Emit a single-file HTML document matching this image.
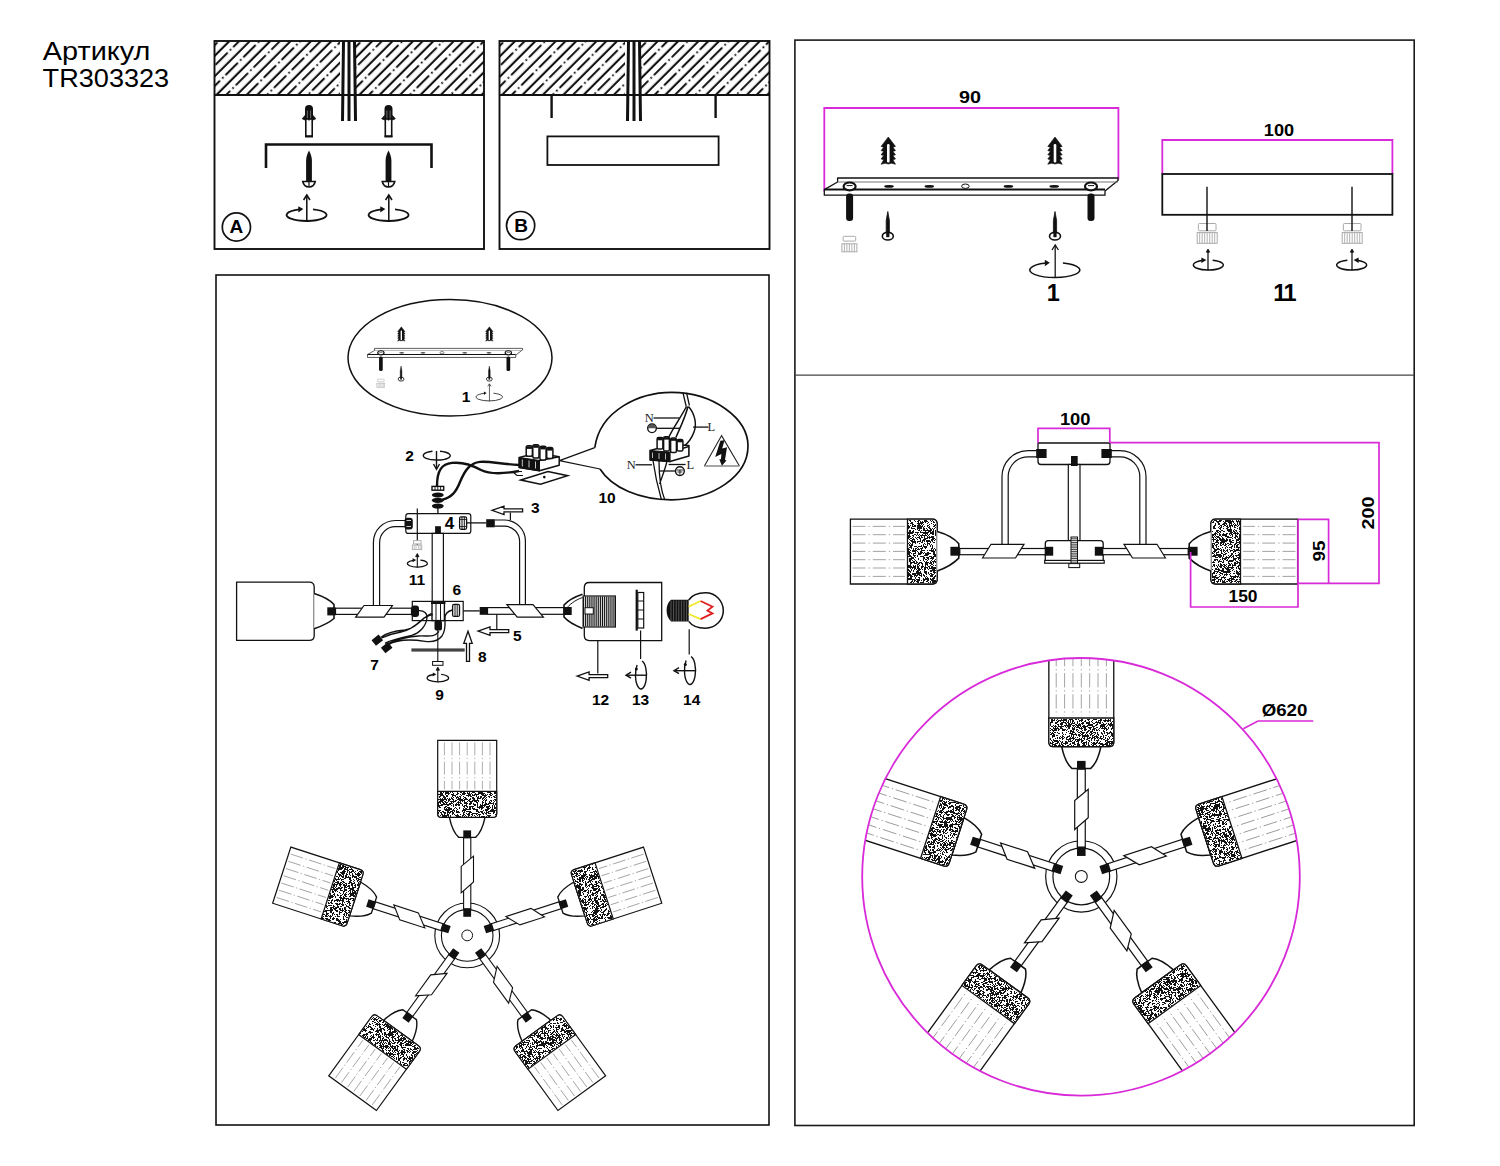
<!DOCTYPE html>
<html><head><meta charset="utf-8"><title>TR303323</title>
<style>
html,body{margin:0;padding:0;background:#fff;width:1500px;height:1166px;overflow:hidden}
svg{display:block}
text{font-family:"Liberation Sans",sans-serif}
.b{font-weight:bold}
text.sf{font-family:"Liberation Serif",serif}
</style></head><body>
<svg width="1500" height="1166" viewBox="0 0 1500 1166">
<defs>
<pattern id="hatch" width="14.425" height="25.24" patternUnits="userSpaceOnUse" patternTransform="rotate(45)">
<rect width="14.425" height="25.24" fill="#fff"/>
<line x1="3.75" y1="-1" x2="3.75" y2="26.24" stroke="#111" stroke-width="2.1"/>
<line x1="10.68" y1="0" x2="10.68" y2="25.24" stroke="#111" stroke-width="2" stroke-dasharray="17.4 3.1 1.6 3.14" stroke-dashoffset="-2.38"/>
</pattern>
</defs>
<text x="42.8" y="60" font-size="25" textLength="107.5" lengthAdjust="spacingAndGlyphs">Артикул</text>
<text x="42.6" y="86.5" font-size="25" textLength="126.6" lengthAdjust="spacingAndGlyphs">TR303323</text>
<rect x="214.5" y="41" width="269.5" height="54" fill="url(#hatch)"/><rect x="340" y="41" width="16" height="54" fill="#fff"/><rect x="214.5" y="41" width="269.5" height="208" fill="none" stroke="#111" stroke-width="1.9"/><line x1="214.5" y1="95" x2="484" y2="95" stroke="#111" stroke-width="2"/><path d="M343.5,41 L342.5,121 M349,41 L349,121 M354.5,41 L355.5,121" stroke="#111" stroke-width="3"/>
<path d="M305.0,119.0 V109 A4.0,4.0 0 0 1 313.0,109 V119.0z" fill="#111"/><path d="M307.4,110.5 V118.5 M310.6,110.5 V118.5" stroke="#777" stroke-width="0.9"/><path d="M305.0,115.5 L302.2,118.8 L305.0,120.0z M313.0,115.5 L315.8,118.8 L313.0,120.0z" fill="#111" stroke="#111" stroke-width="0.8" stroke-linejoin="round"/><rect x="305.8" y="119.0" width="6.4" height="17.2" fill="#fff" stroke="#111" stroke-width="1.6"/><line x1="309" y1="117.5" x2="309" y2="120.5" stroke="#111" stroke-width="1.4"/><line x1="305.0" y1="136.5" x2="313.0" y2="136.5" stroke="#111" stroke-width="2"/>
<path d="M384.5,119.0 V109 A4.0,4.0 0 0 1 392.5,109 V119.0z" fill="#111"/><path d="M386.9,110.5 V118.5 M390.1,110.5 V118.5" stroke="#777" stroke-width="0.9"/><path d="M384.5,115.5 L381.7,118.8 L384.5,120.0z M392.5,115.5 L395.3,118.8 L392.5,120.0z" fill="#111" stroke="#111" stroke-width="0.8" stroke-linejoin="round"/><rect x="385.3" y="119.0" width="6.4" height="17.2" fill="#fff" stroke="#111" stroke-width="1.6"/><line x1="388.5" y1="117.5" x2="388.5" y2="120.5" stroke="#111" stroke-width="1.4"/><line x1="384.5" y1="136.5" x2="392.5" y2="136.5" stroke="#111" stroke-width="2"/>
<path d="M266,168 V144.5 H431.5 V168" fill="none" stroke="#111" stroke-width="2.6"/>
<path d="M309,150.5 C310.5,153.5 311.9,156.5 311.9,160.5 V181.5 H306.1 V160.5 C306.1,156.5 307.5,153.5 309,150.5z" fill="#111"/><path d="M302.75,181.5 H315.25 C314.25,186 311,187 309,187 C307,187 303.75,186 302.75,181.5z" fill="#fff" stroke="#111" stroke-width="1.6"/><line x1="309" y1="181.5" x2="309" y2="187" stroke="#111" stroke-width="1.2"/>
<path d="M388.5,150.5 C390.0,153.5 391.4,156.5 391.4,160.5 V181.5 H385.6 V160.5 C385.6,156.5 387.0,153.5 388.5,150.5z" fill="#111"/><path d="M382.25,181.5 H394.75 C393.75,186 390.5,187 388.5,187 C386.5,187 383.25,186 382.25,181.5z" fill="#fff" stroke="#111" stroke-width="1.6"/><line x1="388.5" y1="181.5" x2="388.5" y2="187" stroke="#111" stroke-width="1.2"/>
<circle cx="236.4" cy="227" r="14.1" fill="none" stroke="#111" stroke-width="1.7"/>
<text x="236.4" y="232.8" font-size="19" class="b" text-anchor="middle">A</text>
<rect x="499.5" y="41" width="270.0" height="54" fill="url(#hatch)"/><rect x="625" y="41" width="16" height="54" fill="#fff"/><rect x="499.5" y="41" width="270.0" height="208" fill="none" stroke="#111" stroke-width="1.9"/><line x1="499.5" y1="95" x2="769.5" y2="95" stroke="#111" stroke-width="2"/><path d="M628.5,41 L627.5,121 M634,41 L634,121 M639.5,41 L640.5,121" stroke="#111" stroke-width="3"/>
<path d="M551.6,95 V118 M715.6,95 V118" stroke="#111" stroke-width="2.4"/>
<rect x="547.4" y="136.4" width="171.2" height="28.6" fill="none" stroke="#111" stroke-width="1.8"/>
<circle cx="520.6" cy="225.6" r="14.1" fill="none" stroke="#111" stroke-width="1.7"/>
<text x="521.2" y="231.8" font-size="19" class="b" text-anchor="middle">B</text>
<rect x="794.9" y="40.1" width="619.3" height="1085.4" fill="none" stroke="#1a1a1a" stroke-width="1.6"/>
<line x1="795" y1="375.2" x2="1414" y2="375.2" stroke="#444" stroke-width="1.3"/>
<path d="M313.0,209.3 A20,6 0 1 1 299.3,209.4" fill="none" stroke="#111" stroke-width="1.8"/><path d="M298.3,206.2 L303.3,209.1 L298.3,212.6z" fill="#111"/><line x1="306.8" y1="221.5" x2="306.8" y2="196" stroke="#111" stroke-width="1.53"/><path d="M303.6,200 L306.8,195 L310.0,200" fill="none" stroke="#111" stroke-width="1.53"/>
<path d="M395.0,209.3 A20,6 0 1 1 381.3,209.4" fill="none" stroke="#111" stroke-width="1.8"/><path d="M380.3,206.2 L385.3,209.1 L380.3,212.6z" fill="#111"/><line x1="388.8" y1="221.5" x2="388.8" y2="196" stroke="#111" stroke-width="1.53"/><path d="M385.6,200 L388.8,195 L392.0,200" fill="none" stroke="#111" stroke-width="1.53"/>
<path d="M824.3,191.5 V108 H1118.4 V179.5" fill="none" stroke="#d82ad8" stroke-width="1.8"/>
<text x="970" y="102.6" font-size="16.5" class="b" text-anchor="middle" textLength="22" lengthAdjust="spacingAndGlyphs">90</text>
<g id="plategrp">
<path d="M888.3,137.0 L895.5,146.4 L892.9,147.2 L895.5,150.6 L892.9,151.4 L895.5,154.8 L892.9,155.6 L895.5,159.0 L892.9,159.8 L895.5,164.3 L891.5,163.2 L888.3,164.0 L885.1,163.2 L881.1,164.3 L883.7,159.8 L881.1,159.0 L883.7,155.6 L881.1,154.8 L883.7,151.4 L881.1,150.6 L883.7,147.2 L881.1,146.4z" fill="#111" stroke="#111" stroke-width="0.6" stroke-linejoin="round"/><rect x="887.0" y="144.0" width="2.6" height="18.5" rx="1.2" fill="#fff"/>
<path d="M1055.0,137.0 L1062.2,146.4 L1059.6,147.2 L1062.2,150.6 L1059.6,151.4 L1062.2,154.8 L1059.6,155.6 L1062.2,159.0 L1059.6,159.8 L1062.2,164.3 L1058.2,163.2 L1055.0,164.0 L1051.8,163.2 L1047.8,164.3 L1050.4,159.8 L1047.8,159.0 L1050.4,155.6 L1047.8,154.8 L1050.4,151.4 L1047.8,150.6 L1050.4,147.2 L1047.8,146.4z" fill="#111" stroke="#111" stroke-width="0.6" stroke-linejoin="round"/><rect x="1053.7" y="144.0" width="2.6" height="18.5" rx="1.2" fill="#fff"/>
<path d="M824.3,195.2 V189.6 L837.6,182 V178 H1118 V180.5 L1105,191 V195.2 Z" fill="#fff" stroke="#111" stroke-width="1.3" stroke-linejoin="round"/>
<path d="M824.3,189.6 H1105" stroke="#111" stroke-width="2"/>
<path d="M837.6,182 H1118" stroke="#777" stroke-width="1"/>
<ellipse cx="889" cy="186.4" rx="4.8" ry="1.3" fill="#111"/>
<ellipse cx="929.3" cy="186.4" rx="4.8" ry="1.3" fill="#111"/>
<ellipse cx="1008.4" cy="186.4" rx="4.8" ry="1.3" fill="#111"/>
<ellipse cx="1054.2" cy="186.4" rx="4.8" ry="1.3" fill="#111"/>
<ellipse cx="965.4" cy="186.2" rx="3.8" ry="2.2" fill="#fff" stroke="#111" stroke-width="1"/>
<rect x="846.1" y="193.5" width="7" height="27.5" rx="3" fill="#111"/>
<ellipse cx="849.6" cy="186.4" rx="6" ry="3.9" fill="#fff" stroke="#111" stroke-width="2.2"/>
<path d="M846.6,185.6 H852.6" stroke="#111" stroke-width="1"/>
<rect x="1087.5" y="193.5" width="7" height="27.5" rx="3" fill="#111"/>
<ellipse cx="1091" cy="186.4" rx="6" ry="3.9" fill="#fff" stroke="#111" stroke-width="2.2"/>
<path d="M1088,185.6 H1094" stroke="#111" stroke-width="1"/>
<path d="M887.8,211.5 L889.4,220.5 V236.2 H886.1999999999999 V220.5z" fill="#111" stroke="#111" stroke-width="0.8"/><ellipse cx="887.8" cy="236.2" rx="5.5" ry="3.8" fill="#fff" stroke="#111" stroke-width="1.6"/><rect x="886.1999999999999" y="232.2" width="3.2" height="5" fill="#111"/>
<path d="M1055,211.5 L1056.6,220.5 V236.2 H1053.4 V220.5z" fill="#111" stroke="#111" stroke-width="0.8"/><ellipse cx="1055" cy="236.2" rx="5.5" ry="3.8" fill="#fff" stroke="#111" stroke-width="1.6"/><rect x="1053.4" y="232.2" width="3.2" height="5" fill="#111"/>
<rect x="843.1" y="236.3" width="12.6" height="4.8" rx="1" fill="#fff" stroke="#aaa" stroke-width="1"/><rect x="841.9" y="243.8" width="15" height="8" fill="#fff" stroke="#aaa" stroke-width="1"/><line x1="844.4" y1="243.8" x2="844.4" y2="251.8" stroke="#aaa" stroke-width="0.9"/><line x1="846.9" y1="243.8" x2="846.9" y2="251.8" stroke="#aaa" stroke-width="0.9"/><line x1="849.4" y1="243.8" x2="849.4" y2="251.8" stroke="#aaa" stroke-width="0.9"/><line x1="851.9" y1="243.8" x2="851.9" y2="251.8" stroke="#aaa" stroke-width="0.9"/><line x1="854.4" y1="243.8" x2="854.4" y2="251.8" stroke="#aaa" stroke-width="0.9"/>
<path d="M1062.9,262.9 A25,7.5 0 1 1 1045.8,263.0" fill="none" stroke="#111" stroke-width="1.5"/><path d="M1044.8,259.8 L1049.8,262.7 L1044.8,266.2z" fill="#111"/><line x1="1055.2" y1="278.0" x2="1055.2" y2="246" stroke="#111" stroke-width="1.27"/><path d="M1052.0,250 L1055.2,245 L1058.4,250" fill="none" stroke="#111" stroke-width="1.27"/>
</g>
<text x="1053.3" y="300.6" font-size="23.5" class="b" text-anchor="middle">1</text>
<path d="M1162.3,174 V140 H1392.4 V174" fill="none" stroke="#d82ad8" stroke-width="1.8"/>
<text x="1279" y="135.7" font-size="16.5" class="b" text-anchor="middle" textLength="30.3" lengthAdjust="spacingAndGlyphs">100</text>
<rect x="1162.3" y="174" width="230.1" height="40.8" fill="none" stroke="#111" stroke-width="1.8"/>
<rect x="1198.4" y="223.5" width="17.6" height="7.3" rx="1" fill="#fff" stroke="#aaa" stroke-width="1"/><rect x="1197.2" y="232.60000000000002" width="20" height="10.7" fill="#fff" stroke="#aaa" stroke-width="1"/><line x1="1199.7" y1="232.60000000000002" x2="1199.7" y2="243.3" stroke="#aaa" stroke-width="0.9"/><line x1="1202.2" y1="232.60000000000002" x2="1202.2" y2="243.3" stroke="#aaa" stroke-width="0.9"/><line x1="1204.7" y1="232.60000000000002" x2="1204.7" y2="243.3" stroke="#aaa" stroke-width="0.9"/><line x1="1207.2" y1="232.60000000000002" x2="1207.2" y2="243.3" stroke="#aaa" stroke-width="0.9"/><line x1="1209.7" y1="232.60000000000002" x2="1209.7" y2="243.3" stroke="#aaa" stroke-width="0.9"/><line x1="1212.2" y1="232.60000000000002" x2="1212.2" y2="243.3" stroke="#aaa" stroke-width="0.9"/><line x1="1214.7" y1="232.60000000000002" x2="1214.7" y2="243.3" stroke="#aaa" stroke-width="0.9"/>
<rect x="1343.4" y="223.5" width="17.6" height="7.3" rx="1" fill="#fff" stroke="#aaa" stroke-width="1"/><rect x="1342.2" y="232.60000000000002" width="20" height="10.7" fill="#fff" stroke="#aaa" stroke-width="1"/><line x1="1344.7" y1="232.60000000000002" x2="1344.7" y2="243.3" stroke="#aaa" stroke-width="0.9"/><line x1="1347.2" y1="232.60000000000002" x2="1347.2" y2="243.3" stroke="#aaa" stroke-width="0.9"/><line x1="1349.7" y1="232.60000000000002" x2="1349.7" y2="243.3" stroke="#aaa" stroke-width="0.9"/><line x1="1352.2" y1="232.60000000000002" x2="1352.2" y2="243.3" stroke="#aaa" stroke-width="0.9"/><line x1="1354.7" y1="232.60000000000002" x2="1354.7" y2="243.3" stroke="#aaa" stroke-width="0.9"/><line x1="1357.2" y1="232.60000000000002" x2="1357.2" y2="243.3" stroke="#aaa" stroke-width="0.9"/><line x1="1359.7" y1="232.60000000000002" x2="1359.7" y2="243.3" stroke="#aaa" stroke-width="0.9"/>
<path d="M1207,186.7 V231 M1352,186.7 V231" stroke="#111" stroke-width="1.4"/>
<path d="M1212.6,260.2 A15,5 0 1 1 1202.4,260.4" fill="none" stroke="#111" stroke-width="1.5"/><path d="M1201.4,257.6 L1206.4,260.1 L1201.4,263.1z" fill="#111"/><line x1="1208" y1="270.5" x2="1208" y2="250" stroke="#111" stroke-width="1.27"/><path d="M1206.3,252.2 L1208,249 L1209.7,252.2z" fill="#111" stroke="#111" stroke-width="0.8"/>
<path d="M1347.4,260.2 A15,5 0 1 0 1357.6,260.4" fill="none" stroke="#111" stroke-width="1.5"/><path d="M1358.6,257.6 L1353.6,260.1 L1358.6,263.1z" fill="#111"/><line x1="1352" y1="270.5" x2="1352" y2="250" stroke="#111" stroke-width="1.27"/><path d="M1350.3,252.2 L1352,249 L1353.7,252.2z" fill="#111" stroke="#111" stroke-width="0.8"/>
<text x="1284.2" y="300.6" font-size="23.5" class="b" text-anchor="middle" letter-spacing="-1.6">11</text>
<defs><g id="arm"><rect x="-3.6" y="-98" width="7.2" height="72" fill="#fff" stroke="#111" stroke-width="1.1"/><path d="M-6,-42.6 L6.3,-53.4 L6.3,-79.2 L-6,-69 Z" fill="#fff" stroke="#111" stroke-width="1.1"/><path d="M-17.8,-118 Q-14.8,-103.5 -8.4,-98 H8.4 Q14.8,-103.5 17.8,-118 Z" fill="#fff" stroke="#111" stroke-width="1.4"/><rect x="-3.9" y="-105" width="7.8" height="8" fill="#111"/><rect x="-3.9" y="-27.2" width="7.8" height="8.6" fill="#111"/><path d="M-29.5,-195 H29.5 V-122 Q29.5,-118 25.5,-118 H-25.5 Q-29.5,-118 -29.5,-122 Z" fill="#fff" stroke="#111" stroke-width="1.2"/><path d="M-29.5,-144 H29.5 V-122 Q29.5,-118 25.5,-118 H-25.5 Q-29.5,-118 -29.5,-122 Z" fill="#fff" stroke="#111" stroke-width="1.2"/><path d="M-22.8,-193 V-146 M-15.2,-193 V-146 M-7.6,-193 V-146 M-0.0,-193 V-146 M7.6,-193 V-146 M15.2,-193 V-146 M22.8,-193 V-146 " stroke="#999" stroke-width="0.8" stroke-dasharray="13 2.5 1.2 2.5"/></g><g id="arm2"><rect x="-3.6" y="-98" width="7.2" height="72" fill="#fff" stroke="#111" stroke-width="1.1"/><path d="M-6,-42.6 L6.3,-53.4 L6.3,-79.2 L-6,-69 Z" fill="#fff" stroke="#111" stroke-width="1.1"/><path d="M-17.8,-118 Q-14.8,-103.5 -8.4,-98 H8.4 Q14.8,-103.5 17.8,-118 Z" fill="#fff" stroke="#111" stroke-width="1.4"/><rect x="-3.9" y="-105" width="7.8" height="8" fill="#111"/><rect x="-3.9" y="-27.2" width="7.8" height="8.6" fill="#111"/><path d="M-29.5,-206 H29.5 V-122 Q29.5,-118 25.5,-118 H-25.5 Q-29.5,-118 -29.5,-122 Z" fill="#fff" stroke="#111" stroke-width="1.2"/><path d="M-29.5,-144 H29.5 V-122 Q29.5,-118 25.5,-118 H-25.5 Q-29.5,-118 -29.5,-122 Z" fill="#fff" stroke="#111" stroke-width="1.2"/><path d="M-22.8,-204 V-146 M-15.2,-204 V-146 M-7.6,-204 V-146 M-0.0,-204 V-146 M7.6,-204 V-146 M15.2,-204 V-146 M22.8,-204 V-146 " stroke="#999" stroke-width="0.8" stroke-dasharray="13 2.5 1.2 2.5"/></g><g id="star"><circle r="32.4" fill="#fff" stroke="#111" stroke-width="1.1"/><circle r="25.8" fill="#fff" stroke="#111" stroke-width="1.1"/><use href="#arm" transform="rotate(0)"/><use href="#arm" transform="rotate(72)"/><use href="#arm" transform="rotate(144)"/><use href="#arm" transform="rotate(216)"/><use href="#arm" transform="rotate(288)"/><circle r="5.4" fill="#fff" stroke="#111" stroke-width="1"/></g><g id="star2"><circle r="32.4" fill="#fff" stroke="#111" stroke-width="1.1"/><circle r="25.8" fill="#fff" stroke="#111" stroke-width="1.1"/><use href="#arm2" transform="rotate(0)"/><use href="#arm2" transform="rotate(72)"/><use href="#arm2" transform="rotate(144)"/><use href="#arm2" transform="rotate(216)"/><use href="#arm2" transform="rotate(288)"/><circle r="5.4" fill="#fff" stroke="#111" stroke-width="1"/></g><clipPath id="cclip"><circle cx="1081" cy="876.8" r="218.4"/></clipPath></defs>
<path d="M1038,443 H1110 V461.5 Q1110,464.5 1107,464.5 H1041 Q1038,464.5 1038,461.5 Z" fill="#fff" stroke="#111" stroke-width="1.3"/>
<rect x="1068.3" y="464.5" width="11.7" height="76" fill="#fff" stroke="#111" stroke-width="1.2"/>
<path d="M1045.3,563 V543.6 Q1045.3,540.6 1048.3,540.6 H1100.2 Q1103.2,540.6 1103.2,543.6 V563" fill="#fff" stroke="#111" stroke-width="1.3"/>
<rect x="1044.7" y="560.4" width="59.5" height="2.8" fill="#fff" stroke="#111" stroke-width="1.2"/>
<path d="M850.4,519.2 H932.2 Q937.2,519.2 937.2,524.2 V579 Q937.2,584 932.2,584 H850.4 Z" fill="#fff" stroke="#111" stroke-width="1.3"/><path d="M907.5,519.2 H932.2 Q937.2,519.2 937.2,524.2 V579 Q937.2,584 932.2,584 H907.5 Z" fill="#fff" stroke="#111" stroke-width="1.3"/><path d="M852.5,526.4 H905 M852.5,534.7 H905 M852.5,543.1 H905 M852.5,551.4 H905 M852.5,559.7 H905 M852.5,568.0 H905 M852.5,576.4 H905 " stroke="#999" stroke-width="0.9" stroke-dasharray="13 3 1.3 3"/><rect x="959.8" y="548.5" width="86" height="6.2" fill="#fff" stroke="#111" stroke-width="1.2"/><path d="M937.2,531.5 C946,534 954,538 958.8,543.7 V558.1 C954,563 946,568 937.2,570.9" fill="#fff" stroke="#111" stroke-width="1.6"/><rect x="950.4" y="546.8" width="9.4" height="8.9" fill="#111"/><path d="M1038,450.6 H1028 A26,26 0 0 0 1002,476.6 V544.3 M1038,456.8 H1028 A19.8,19.8 0 0 0 1008.2,476.6 V544.3" fill="none" stroke="#111" stroke-width="1.2"/><path d="M982.5,558 L991,544.3 L1024,544.3 L1015.5,558 Z" fill="#fff" stroke="#111" stroke-width="1.2"/><rect x="1036.2" y="449" width="10.4" height="9" fill="#111"/><rect x="1044.7" y="546.8" width="8.5" height="8.9" fill="#111"/>
<g transform="translate(2148,0) scale(-1,1)"><path d="M850.4,519.2 H932.2 Q937.2,519.2 937.2,524.2 V579 Q937.2,584 932.2,584 H850.4 Z" fill="#fff" stroke="#111" stroke-width="1.3"/><path d="M907.5,519.2 H932.2 Q937.2,519.2 937.2,524.2 V579 Q937.2,584 932.2,584 H907.5 Z" fill="#fff" stroke="#111" stroke-width="1.3"/><path d="M852.5,526.4 H905 M852.5,534.7 H905 M852.5,543.1 H905 M852.5,551.4 H905 M852.5,559.7 H905 M852.5,568.0 H905 M852.5,576.4 H905 " stroke="#999" stroke-width="0.9" stroke-dasharray="13 3 1.3 3"/><rect x="959.8" y="548.5" width="86" height="6.2" fill="#fff" stroke="#111" stroke-width="1.2"/><path d="M937.2,531.5 C946,534 954,538 958.8,543.7 V558.1 C954,563 946,568 937.2,570.9" fill="#fff" stroke="#111" stroke-width="1.6"/><rect x="950.4" y="546.8" width="9.4" height="8.9" fill="#111"/><path d="M1038,450.6 H1028 A26,26 0 0 0 1002,476.6 V544.3 M1038,456.8 H1028 A19.8,19.8 0 0 0 1008.2,476.6 V544.3" fill="none" stroke="#111" stroke-width="1.2"/><path d="M982.5,558 L991,544.3 L1024,544.3 L1015.5,558 Z" fill="#fff" stroke="#111" stroke-width="1.2"/><rect x="1036.2" y="449" width="10.4" height="9" fill="#111"/><rect x="1044.7" y="546.8" width="8.5" height="8.9" fill="#111"/></g>
<rect x="1071" y="456" width="6.7" height="10" fill="#111"/>
<rect x="1071" y="537" width="6.5" height="30.4" fill="#fff" stroke="#111" stroke-width="1"/>
<path d="M1071,538.8 h6.5 M1071,540.6 h6.5 M1071,542.4 h6.5 M1071,544.2 h6.5 M1071,546.0 h6.5 M1071,547.8 h6.5 M1071,549.6 h6.5 M1071,551.4 h6.5 M1071,553.2 h6.5 M1071,555.0 h6.5 M1071,556.8 h6.5 M1071,558.6 h6.5 M1071,560.4 h6.5 M1071,562.2 h6.5 M1071,564.0 h6.5 M1071,565.8 h6.5 " stroke="#222" stroke-width="0.9"/>
<rect x="1068.8" y="563.6" width="10.9" height="4" fill="#fff" stroke="#111" stroke-width="1"/>
<g fill="none" stroke="#d82ad8" stroke-width="1.7"><path d="M1038,443 V428.3 H1109.8 V443"/><path d="M1110,442.6 H1379 V583.3 H1298"/><path d="M1298,519.4 H1328.6 V583"/><path d="M1190.6,552 V607 H1298 V519.4"/></g>
<text x="1075.2" y="424.5" font-size="16.5" class="b" text-anchor="middle" textLength="30.6" lengthAdjust="spacingAndGlyphs">100</text>
<text x="1243" y="601.5" font-size="16.5" class="b" text-anchor="middle" textLength="29" lengthAdjust="spacingAndGlyphs">150</text>
<text x="1324.5" y="551" font-size="16.5" class="b" text-anchor="middle" textLength="21" lengthAdjust="spacingAndGlyphs" transform="rotate(-90 1324.5 551)">95</text>
<text x="1373.5" y="513" font-size="17" class="b" text-anchor="middle" textLength="33" lengthAdjust="spacingAndGlyphs" transform="rotate(-90 1373.5 513)">200</text>
<g clip-path="url(#cclip)"><use href="#star2" transform="translate(1081.3,876.4) scale(1.1)"/></g>
<circle cx="1081" cy="876.8" r="218.8" fill="none" stroke="#d82ad8" stroke-width="1.8"/>
<path d="M1243.3,728.7 L1258,721 H1313.3" fill="none" stroke="#d82ad8" stroke-width="1.6"/>
<text x="1284.5" y="716" font-size="16.5" class="b" text-anchor="middle" textLength="45.7" lengthAdjust="spacingAndGlyphs">Ø620</text>
<rect x="216" y="275" width="553" height="850" fill="none" stroke="#111" stroke-width="1.6"/>
<ellipse cx="450" cy="357.8" rx="102" ry="58.2" fill="none" stroke="#111" stroke-width="1.5"/>
<use href="#plategrp" transform="translate(-67.7,254.4) scale(0.528)"/>
<text x="466" y="402" font-size="15.5" class="b" text-anchor="middle">1</text>
<text x="409.6" y="460.6" font-size="15.5" class="b" text-anchor="middle">2</text>
<path d="M440,451.2 A13.5,4.5 0 1 1 432.5,451.3" fill="none" stroke="#111" stroke-width="1.4"/>
<path d="M436.5,451 V468" stroke="#111" stroke-width="1.4"/><path d="M433.5,464 L436.5,469.3 L439.5,464" fill="none" stroke="#111" stroke-width="1.4"/>
<path d="M437,486 C437,470 442,464 452,462.9 C462,461.8 472,465 481,470 C489,474 500,474.5 519,471" fill="none" stroke="#111" stroke-width="2.4"/>
<path d="M442.4,499.7 C452,497 456,492 460,482 C465,470 470,463 480,461.9 C490,461 500,464 519,465" fill="none" stroke="#111" stroke-width="2.4"/>
<path d="M513,471.5 H522 M513,472 L517,475.5 H523" fill="none" stroke="#111" stroke-width="1.2"/>
<path d="M520.8,480 L548,471.5 L567.7,475.7 L540.5,484.3 Z" fill="#fff" stroke="#111" stroke-width="1.5"/>
<circle cx="544.3" cy="477.1" r="1.3" fill="#111"/>
<path d="M519.2,457.6 L537,453 L559.2,456.7 V465.2 L539.4,470.8 L519.2,467.5 Z" fill="#fff" stroke="#111" stroke-width="1.5" stroke-linejoin="round"/>
<path d="M519.2,457.6 L539.4,460.5 V470.8 L519.2,467.5 Z" fill="#111" stroke="#111" stroke-width="1.2"/>
<path d="M539.4,460.5 L559.2,456.7" stroke="#111" stroke-width="1.4"/>
<path d="M522.3,459.5 V466.5 M529,460.5 V467.5 M535.5,461.5 V468.5" stroke="#ddd" stroke-width="0.9"/>
<rect x="526.1999999999999" y="445.8" width="6.2" height="10.4" rx="1.8" fill="#fff" stroke="#111" stroke-width="1.5"/>
<rect x="526.6999999999999" y="446.3" width="5.2" height="2.6" fill="#111"/>
<rect x="532.8" y="444.7" width="6.2" height="13.4" rx="1.8" fill="#fff" stroke="#111" stroke-width="1.5"/>
<rect x="533.3" y="445.2" width="5.2" height="2.6" fill="#111"/>
<rect x="539.9" y="446.3" width="6.2" height="13.7" rx="1.8" fill="#fff" stroke="#111" stroke-width="1.5"/>
<rect x="540.4" y="446.8" width="5.2" height="2.6" fill="#111"/>
<rect x="546.6999999999999" y="447.5" width="6.2" height="11.1" rx="1.8" fill="#fff" stroke="#111" stroke-width="1.5"/>
<rect x="547.1999999999999" y="448.0" width="5.2" height="2.6" fill="#111"/>
<path d="M559.5,460.6 L594.8,447.6 M559.5,460.6 L600,469" stroke="#111" stroke-width="1.2"/>
<rect x="432" y="486.4" width="11.7" height="3.8" fill="#fff" stroke="#111" stroke-width="1.4"/>
<path d="M435,486.4 V490.2 M437.8,486.4 V490.2 M440.6,486.4 V490.2" stroke="#111" stroke-width="0.9"/>
<ellipse cx="437.8" cy="495" rx="5.9" ry="2.6" fill="#111"/>
<ellipse cx="437.8" cy="500.3" rx="5.9" ry="2.6" fill="#111"/>
<ellipse cx="437.8" cy="506.1" rx="5.9" ry="2.6" fill="#111"/>
<line x1="437.9" y1="508" x2="437.9" y2="527" stroke="#111" stroke-width="1.3"/>
<path d="M492,510.3 L504,506.1 V508.8 H522.6 V511.8 H504 V514.5 Z" fill="#fff" stroke="#111" stroke-width="1.3" stroke-linejoin="miter"/>
<line x1="510.4" y1="512.5" x2="510.4" y2="520" stroke="#111" stroke-width="1.2"/>
<text x="535.3" y="512.5" font-size="15.5" class="b" text-anchor="middle">3</text>
<path d="M405,520.5 H395.4 A22,22 0 0 0 373.4,542.5 V605.5 M405,526.7 H395.4 A15.8,15.8 0 0 0 379.6,542.5 V605.5" fill="none" stroke="#111" stroke-width="1.2"/>
<path d="M494.8,520 H504.4 A21,21 0 0 1 525.4,541 V604.6 M494.8,526.2 H504.4 A15.2,15.2 0 0 1 519.6,541 V604.6" fill="none" stroke="#111" stroke-width="1.2"/>
<rect x="405.8" y="513.6" width="65" height="19.8" rx="2.5" fill="#fff" stroke="#111" stroke-width="1.2"/>
<rect x="404.5" y="517.8" width="8.3" height="11.7" rx="3" fill="#111"/>
<path d="M406.5,520.5 H411 M406.5,526.5 H411" stroke="#fff" stroke-width="0.8"/>
<rect x="459.6" y="516.9" width="7" height="12.4" rx="1.5" fill="#fff" stroke="#111" stroke-width="1.3"/>
<path d="M462,517 V529.2 M464.3,517 V529.2" stroke="#111" stroke-width="1"/><path d="M459.8,519.5 h6.6 M459.8,526.5 h6.6" stroke="#111" stroke-width="0.8"/>
<text x="449.6" y="529.4" font-size="17" class="b" text-anchor="middle">4</text>
<line x1="466.9" y1="522.9" x2="486.2" y2="522.9" stroke="#111" stroke-width="1.3"/>
<rect x="486.2" y="519.2" width="8.6" height="8.1" fill="#111"/>
<rect x="435.1" y="526.2" width="5.8" height="8.1" fill="#111"/>
<line x1="417.3" y1="508.4" x2="417.3" y2="548" stroke="#111" stroke-width="1.2"/>
<rect x="413.5" y="540.7" width="7.6" height="3.2" fill="#fff" stroke="#aaa" stroke-width="0.9"/>
<rect x="412.3" y="545" width="9.5" height="4.6" fill="#fff" stroke="#aaa" stroke-width="0.9"/>
<path d="M414.2,545 V549.6 M416,545 V549.6 M418.6,545 V549.6 M420.2,545 V549.6" stroke="#aaa" stroke-width="0.7"/>
<path d="M420.4,560.2 A10,3.5 0 1 1 413.6,560.3" fill="none" stroke="#111" stroke-width="1.3"/><path d="M412.6,558.3 L416.2,560.0 L412.6,562.2z" fill="#111"/><line x1="417.3" y1="567.5" x2="417.3" y2="554.5" stroke="#111" stroke-width="1.10"/><path d="M415.6,556.7 L417.3,553.5 L419.0,556.7z" fill="#111" stroke="#111" stroke-width="0.8"/>
<text x="417" y="585.3" font-size="15.5" class="b" text-anchor="middle">11</text>
<rect x="432.2" y="533.4" width="11.2" height="68.2" fill="#fff" stroke="#111" stroke-width="1.2"/>
<text x="456.8" y="595.3" font-size="15.5" class="b" text-anchor="middle">6</text>
<path d="M236.6,582.1 H309.2 Q314.2,582.1 314.2,587.1 V635.4 Q314.2,640.4 309.2,640.4 H236.6 Z" fill="#fff" stroke="#111" stroke-width="1.3"/>
<rect x="335.5" y="608.2" width="76" height="6.2" fill="#fff" stroke="#111" stroke-width="1.2"/>
<path d="M314.2,593.5 C322,596 330,600 334,604.5 V618.5 C330,622 322,626 314.2,628.8" fill="#fff" stroke="#111" stroke-width="1.6"/>
<rect x="327.3" y="607.3" width="8.2" height="8.1" fill="#111"/>
<path d="M355.7,617.2 L364,605.5 L392.4,605.5 L384,617.2 Z" fill="#fff" stroke="#111" stroke-width="1.2"/>
<rect x="412.3" y="601.4" width="50.9" height="19.2" fill="#fff" stroke="#111" stroke-width="1.2"/>
<rect x="411.2" y="605.4" width="7.8" height="11.6" rx="3" fill="#111"/>
<rect x="452.6" y="604.4" width="6.9" height="12" rx="1.5" fill="#fff" stroke="#111" stroke-width="1.3"/>
<path d="M455,604.5 V616.3 M457.2,604.5 V616.3" stroke="#111" stroke-width="1"/>
<rect x="432" y="601.6" width="12.4" height="19" fill="#fff" stroke="#111" stroke-width="1.4"/>
<rect x="431" y="601" width="14.4" height="3" fill="#111"/>
<path d="M436,604 V620 M440.5,604 V620" stroke="#111" stroke-width="1"/>
<rect x="434.5" y="620.5" width="7.5" height="10" rx="2" fill="#111"/>
<line x1="463.2" y1="610.9" x2="479.7" y2="610.9" stroke="#111" stroke-width="1.3"/>
<rect x="479.7" y="607" width="7.8" height="7.8" fill="#111"/>
<rect x="487.5" y="607.6" width="76.5" height="6.7" fill="#fff" stroke="#111" stroke-width="1.2"/>
<path d="M506.9,604.6 L533,604.6 L543.4,617.2 L517.2,617.2 Z" fill="#fff" stroke="#111" stroke-width="1.2"/>
<path d="M381,637.3 C386,633 394,631 405,630 C412,629 415,626 418.3,623.3 C423,619 427,615 431.7,613.3 M381.7,638 C388,635 395,633 401,632 C408,631 414,627 421.7,620 C425,617 429,615.5 433,614.7 M385,643.3 C391,640 398,638 411.7,635.3 C420,633 426,626 427,618 C427.5,613 424,610.5 419,610.7 M387,644 C395,640 405,637 418.3,636 C428,635.5 434,638 439,631.3 M388.3,644.7 C396,640 410,639 425,641.3 C433,642.5 438,641 442,636 C446,630 445,624 445,618 C445,614 447,611.5 452.3,610" fill="none" stroke="#111" stroke-width="1.35"/>
<rect x="372.8" y="636.6" width="9" height="7.2" fill="#111" transform="rotate(-38 377.3 640.2)"/>
<rect x="382.2" y="644.1" width="9" height="7.2" fill="#111" transform="rotate(-38 386.7 647.7)"/>
<text x="374.6" y="670" font-size="15.5" class="b" text-anchor="middle">7</text>
<rect x="411.4" y="648.4" width="53.3" height="3.2" fill="#444"/>
<path d="M468,631.3 L472.2,643.3 H469.5 V661.3 H466.5 V643.3 H463.8 Z" fill="#fff" stroke="#111" stroke-width="1.3" stroke-linejoin="miter"/>
<text x="482.2" y="661.5" font-size="15.5" class="b" text-anchor="middle">8</text>
<line x1="437.8" y1="630" x2="437.8" y2="661.5" stroke="#111" stroke-width="1.1"/>
<rect x="432.6" y="661.5" width="10.4" height="3.8" fill="#fff" stroke="#111" stroke-width="1"/>
<path d="M441.1,674.4 A10.8,3.8 0 1 1 433.8,674.5" fill="none" stroke="#111" stroke-width="1.3"/><path d="M432.8,672.4 L436.4,674.2 L432.8,676.6z" fill="#111"/><line x1="437.8" y1="682.3" x2="437.8" y2="668" stroke="#111" stroke-width="1.10"/><path d="M436.1,670.2 L437.8,667 L439.5,670.2z" fill="#111" stroke="#111" stroke-width="0.8"/>
<text x="439.5" y="699.7" font-size="15.5" class="b" text-anchor="middle">9</text>
<line x1="496.8" y1="614.3" x2="496.8" y2="630" stroke="#111" stroke-width="1.2"/>
<path d="M478,631.1 L490,626.9 V629.6 H508.7 V632.6 H490 V635.3000000000001 Z" fill="#fff" stroke="#111" stroke-width="1.3" stroke-linejoin="miter"/>
<text x="517.2" y="641.4" font-size="15.5" class="b" text-anchor="middle">5</text>
<path d="M661.7,582.5 H589.3 Q584.3,582.5 584.3,587.5 V635.6 Q584.3,640.6 589.3,640.6 H661.7 Z" fill="#fff" stroke="#111" stroke-width="1.3"/>
<rect x="582.5" y="596" width="32.9" height="31" fill="#fff" stroke="#111" stroke-width="1.2"/>
<path d="M583.5,596.5 V626.5 M585.4,596.5 V626.5 M587.3,596.5 V626.5 M589.2,596.5 V626.5 M591.1,596.5 V626.5 M593.0,596.5 V626.5 M594.9,596.5 V626.5 M596.8,596.5 V626.5 M598.7,596.5 V626.5 M600.6,596.5 V626.5 M602.5,596.5 V626.5 M604.4,596.5 V626.5 M606.3,596.5 V626.5 M608.2,596.5 V626.5 M610.1,596.5 V626.5 M612.0,596.5 V626.5 M613.9,596.5 V626.5 " stroke="#111" stroke-width="1.1"/>
<rect x="585" y="607.7" width="8.3" height="6.3" fill="#fff" stroke="#111" stroke-width="1"/>
<path d="M582.5,594.2 C574,597 567.5,601 564,605 V617 C567.5,621 574,625 582.5,628.4" fill="#fff" stroke="#111" stroke-width="1.6"/>
<path d="M582.5,597.5 C575,600 569,605 567,608" fill="none" stroke="#111" stroke-width="1"/>
<rect x="564" y="607" width="7.7" height="8" fill="#111"/>
<rect x="635.6" y="589.7" width="2.2" height="40.9" fill="#111"/>
<rect x="637.8" y="592.5" width="5.9" height="35.5" fill="#fff" stroke="#111" stroke-width="1.2"/>
<path d="M637.8,601 h5.9 M637.8,610 h5.9 M637.8,619 h5.9" stroke="#111" stroke-width="1"/>
<path d="M688.7,600 C692,595 698,592.8 705.5,592.8 C715.3,592.8 723.3,600.8 723.3,610.6 C723.3,620.4 715.3,628.2 705.5,628.2 C698,628.2 692,626 688.7,621.4" fill="#fff" stroke="#111" stroke-width="1.5"/>
<path d="M688.7,599.8 H671 C668,602 666.6,606 666.6,610.3 C666.6,614.6 668,618.8 671,621.4 H688.7 Z" fill="#111"/>
<path d="M671.0,600.5 V621 M673.6,600.5 V621 M676.2,600.5 V621 M678.8,600.5 V621 M681.4,600.5 V621 M684.0,600.5 V621 M686.6,600.5 V621 " stroke="#666" stroke-width="0.8"/>
<path d="M688.7,606.6 L700.6,601 M688.7,614 L700.6,619.1" stroke="#f2e830" stroke-width="1.8"/>
<path d="M700.6,601 L712.5,606.6 L707.4,610.6 L712.5,613.4 L700.6,619.1" fill="none" stroke="#e02020" stroke-width="1.8" stroke-linejoin="miter"/>
<line x1="597.8" y1="640.6" x2="597.8" y2="673.5" stroke="#111" stroke-width="1.2"/>
<path d="M577.1,676.1 L589.1,671.9 V674.6 H607.7 V677.6 H589.1 V680.3000000000001 Z" fill="#fff" stroke="#111" stroke-width="1.3" stroke-linejoin="miter"/>
<text x="600.5" y="705.4" font-size="15.5" class="b" text-anchor="middle">12</text>
<line x1="640.6" y1="630.6" x2="640.6" y2="659" stroke="#111" stroke-width="1.2"/>
<path d="M642,661.2 A5.5,14 0 1 1 637.1,665.1" fill="none" stroke="#111" stroke-width="1.4"/><circle cx="636.3" cy="668.9" r="1.5" fill="#111"/><line x1="646.5" y1="675.2" x2="627" y2="675.2" stroke="#111" stroke-width="1.4"/><path d="M631,672.2 L626,675.2 L631,678.2" fill="none" stroke="#111" stroke-width="1.4"/>
<text x="640.6" y="705.4" font-size="15.5" class="b" text-anchor="middle">13</text>
<line x1="689.2" y1="629.3" x2="689.2" y2="654.5" stroke="#111" stroke-width="1.2"/>
<path d="M691,656.7 A5.5,14 0 1 1 686.1,660.6" fill="none" stroke="#111" stroke-width="1.4"/><circle cx="685.3" cy="664.4" r="1.5" fill="#111"/><line x1="695.5" y1="670.7" x2="675" y2="670.7" stroke="#111" stroke-width="1.4"/><path d="M679,667.7 L674,670.7 L679,673.7" fill="none" stroke="#111" stroke-width="1.4"/>
<text x="691.7" y="705.4" font-size="15.5" class="b" text-anchor="middle">14</text>
<path d="M594.8,447.6 C600,410 640,392.4 671.5,392.4 C713,392.4 748,418 748,446 C748,476 713,499.8 671.5,499.8 C640,499.8 612,488 600,469" fill="none" stroke="#111" stroke-width="1.7"/>
<path d="M683,392.8 L686.2,406.5 M686.6,392.8 L689.4,405.5" stroke="#111" stroke-width="1.3" fill="none"/>
<path d="M686.5,406.5 C681,417 673,428 668.6,437.5 M688,406.5 C685,418 680,428 675.9,437.5 M688.5,406.5 C695,414 697,424 694,432 C691,440 687,444 683.5,446.5" stroke="#111" stroke-width="1.5" fill="none"/>
<text x="649.3" y="422.2" font-size="12.5" class="sf" text-anchor="middle" fill="#222">N</text>
<path d="M653.5,418 H679.5" stroke="#111" stroke-width="1.3"/>
<circle cx="652" cy="428.3" r="4.3" fill="#fff" stroke="#111" stroke-width="1.4"/>
<path d="M647.9,428.3 A4.1,4.1 0 0 1 656.1,428.3 Z" fill="#555"/>
<path d="M656.3,428.3 H680" stroke="#111" stroke-width="1.3"/>
<path d="M693.1,427.1 H708.5" stroke="#111" stroke-width="1.3"/>
<text x="711.3" y="431.2" font-size="12.5" class="sf" text-anchor="middle" fill="#222">L</text>
<path d="M650.2,450.5 L672,444.5 L688.9,445.5 V456 L670,461.5 L650.2,459.9 Z" fill="#fff" stroke="#111" stroke-width="1.6" stroke-linejoin="round"/>
<path d="M650.2,450.5 L670,452.2 V461.5 L650.2,459.9 Z" fill="#111" stroke="#111" stroke-width="1.2"/>
<path d="M670,452.2 L688.9,446.5" stroke="#111" stroke-width="1.4"/>
<path d="M652.5,452.5 V458 M659,453 V459 M665.5,453.5 V459.5" stroke="#ccc" stroke-width="0.9"/>
<rect x="657.1" y="437.5" width="5.8" height="11.5" rx="1.6" fill="#fff" stroke="#111" stroke-width="1.5"/>
<rect x="657.5" y="437.9" width="5" height="2.4" fill="#111"/>
<rect x="663.6" y="436.8" width="5.8" height="14.2" rx="1.6" fill="#fff" stroke="#111" stroke-width="1.5"/>
<rect x="664.0" y="437.2" width="5" height="2.4" fill="#111"/>
<rect x="670.6" y="438" width="5.8" height="14.5" rx="1.6" fill="#fff" stroke="#111" stroke-width="1.5"/>
<rect x="671.0" y="438.4" width="5" height="2.4" fill="#111"/>
<rect x="677.1" y="439.5" width="5.8" height="11.5" rx="1.6" fill="#fff" stroke="#111" stroke-width="1.5"/>
<rect x="677.5" y="439.9" width="5" height="2.4" fill="#111"/>
<path d="M653,460.5 C655,475 658,488 661.5,500 M659,461 C659,476 660.5,489 664.8,500 M667,461 C665,470 661.5,478 659.6,484" stroke="#111" stroke-width="1.3" fill="none"/>
<text x="631.3" y="468.9" font-size="12.5" class="sf" text-anchor="middle" fill="#222">N</text>
<path d="M635.5,464.8 H652" stroke="#111" stroke-width="1.3"/>
<text x="690.2" y="468.6" font-size="12.5" class="sf" text-anchor="middle" fill="#222">L</text>
<path d="M668.6,464.5 H685.6" stroke="#111" stroke-width="1.3"/>
<circle cx="679.9" cy="471.1" r="4.4" fill="#fff" stroke="#111" stroke-width="1.4"/>
<path d="M676.5,470 H683.3 M679.9,470 V474.5 M677.5,472 H682.3" stroke="#111" stroke-width="0.9"/>
<path d="M659.6,471 H675.5" stroke="#111" stroke-width="1.3"/>
<path d="M704.4,466 L721.6,435.6 L739.4,466" fill="none" stroke="#222" stroke-width="1.1"/>
<path d="M704.4,466 H739.4" stroke="#888" stroke-width="1.6"/>
<path d="M720.4,440.7 L724.5,440.2 L722.2,448.5 L727,447.2 L725,460 L726.5,460.5 L721.9,465.7 L719.3,459.3 L720.9,459.3 L721.4,454.1 L715.2,456.9 Z" fill="#111"/>
<text x="607" y="503.4" font-size="15.5" class="b" text-anchor="middle">10</text>
<use href="#star" transform="translate(467.2,935.4)"/>
<path d="M440 792h2v1h-2zM443 792h1v1h-1zM445 792h4v1h-4zM450 792h1v1h-1zM452 792h1v1h-1zM457 792h1v1h-1zM460 792h2v1h-2zM463 792h2v1h-2zM467 792h1v1h-1zM469 792h1v1h-1zM472 792h3v1h-3zM478 792h5v1h-5zM487 792h4v1h-4zM494 792h2v1h-2zM440 793h3v1h-3zM445 793h5v1h-5zM453 793h1v1h-1zM457 793h2v1h-2zM462 793h4v1h-4zM467 793h3v1h-3zM471 793h1v1h-1zM475 793h1v1h-1zM478 793h7v1h-7zM490 793h2v1h-2zM494 793h2v1h-2zM438 794h5v1h-5zM445 794h1v1h-1zM448 794h1v1h-1zM451 794h3v1h-3zM456 794h2v1h-2zM460 794h1v1h-1zM462 794h3v1h-3zM468 794h3v1h-3zM472 794h1v1h-1zM474 794h5v1h-5zM481 794h3v1h-3zM485 794h1v1h-1zM487 794h1v1h-1zM489 794h2v1h-2zM492 794h1v1h-1zM440 795h4v1h-4zM446 795h2v1h-2zM452 795h4v1h-4zM461 795h1v1h-1zM466 795h5v1h-5zM472 795h3v1h-3zM476 795h1v1h-1zM482 795h5v1h-5zM490 795h2v1h-2zM495 795h1v1h-1zM439 796h2v1h-2zM443 796h2v1h-2zM446 796h2v1h-2zM452 796h1v1h-1zM455 796h1v1h-1zM457 796h1v1h-1zM459 796h2v1h-2zM463 796h1v1h-1zM468 796h1v1h-1zM470 796h2v1h-2zM476 796h1v1h-1zM478 796h1v1h-1zM480 796h2v1h-2zM484 796h2v1h-2zM488 796h2v1h-2zM493 796h2v1h-2zM439 797h1v1h-1zM443 797h3v1h-3zM451 797h1v1h-1zM453 797h1v1h-1zM456 797h3v1h-3zM460 797h1v1h-1zM464 797h2v1h-2zM472 797h2v1h-2zM477 797h2v1h-2zM480 797h2v1h-2zM483 797h2v1h-2zM486 797h1v1h-1zM489 797h1v1h-1zM491 797h1v1h-1zM494 797h2v1h-2zM440 798h1v1h-1zM442 798h1v1h-1zM444 798h2v1h-2zM447 798h1v1h-1zM449 798h1v1h-1zM451 798h2v1h-2zM456 798h1v1h-1zM458 798h3v1h-3zM463 798h1v1h-1zM465 798h2v1h-2zM470 798h1v1h-1zM472 798h3v1h-3zM477 798h4v1h-4zM482 798h2v1h-2zM485 798h1v1h-1zM438 799h9v1h-9zM448 799h3v1h-3zM452 799h2v1h-2zM457 799h6v1h-6zM464 799h4v1h-4zM469 799h2v1h-2zM473 799h2v1h-2zM477 799h1v1h-1zM482 799h1v1h-1zM484 799h1v1h-1zM486 799h1v1h-1zM494 799h2v1h-2zM440 800h4v1h-4zM446 800h1v1h-1zM448 800h2v1h-2zM453 800h1v1h-1zM455 800h2v1h-2zM459 800h6v1h-6zM468 800h2v1h-2zM472 800h7v1h-7zM483 800h1v1h-1zM485 800h2v1h-2zM490 800h2v1h-2zM493 800h1v1h-1zM495 800h1v1h-1zM439 801h4v1h-4zM444 801h2v1h-2zM448 801h1v1h-1zM450 801h6v1h-6zM458 801h1v1h-1zM460 801h1v1h-1zM462 801h1v1h-1zM464 801h1v1h-1zM467 801h1v1h-1zM469 801h4v1h-4zM474 801h3v1h-3zM478 801h1v1h-1zM482 801h1v1h-1zM485 801h1v1h-1zM489 801h1v1h-1zM491 801h1v1h-1zM494 801h1v1h-1zM438 802h3v1h-3zM442 802h2v1h-2zM445 802h3v1h-3zM451 802h1v1h-1zM453 802h1v1h-1zM457 802h4v1h-4zM464 802h3v1h-3zM470 802h2v1h-2zM476 802h2v1h-2zM482 802h2v1h-2zM485 802h1v1h-1zM489 802h2v1h-2zM493 802h1v1h-1zM438 803h1v1h-1zM440 803h1v1h-1zM443 803h2v1h-2zM446 803h1v1h-1zM449 803h4v1h-4zM456 803h1v1h-1zM458 803h1v1h-1zM460 803h2v1h-2zM464 803h4v1h-4zM469 803h3v1h-3zM473 803h1v1h-1zM477 803h1v1h-1zM482 803h1v1h-1zM485 803h2v1h-2zM488 803h6v1h-6zM495 803h1v1h-1zM438 804h1v1h-1zM441 804h10v1h-10zM453 804h1v1h-1zM455 804h5v1h-5zM462 804h1v1h-1zM466 804h1v1h-1zM469 804h2v1h-2zM473 804h3v1h-3zM477 804h1v1h-1zM480 804h1v1h-1zM482 804h1v1h-1zM484 804h5v1h-5zM493 804h1v1h-1zM495 804h1v1h-1zM438 805h5v1h-5zM447 805h2v1h-2zM451 805h1v1h-1zM453 805h1v1h-1zM455 805h2v1h-2zM458 805h2v1h-2zM462 805h1v1h-1zM464 805h3v1h-3zM474 805h2v1h-2zM477 805h1v1h-1zM480 805h6v1h-6zM489 805h1v1h-1zM492 805h1v1h-1zM494 805h1v1h-1zM438 806h2v1h-2zM445 806h2v1h-2zM453 806h1v1h-1zM463 806h2v1h-2zM466 806h2v1h-2zM469 806h5v1h-5zM477 806h1v1h-1zM479 806h4v1h-4zM484 806h1v1h-1zM486 806h4v1h-4zM492 806h1v1h-1zM494 806h1v1h-1zM439 807h2v1h-2zM444 807h2v1h-2zM447 807h3v1h-3zM455 807h1v1h-1zM459 807h1v1h-1zM464 807h1v1h-1zM467 807h1v1h-1zM469 807h2v1h-2zM472 807h1v1h-1zM477 807h7v1h-7zM486 807h3v1h-3zM490 807h1v1h-1zM492 807h1v1h-1zM494 807h2v1h-2zM444 808h1v1h-1zM446 808h1v1h-1zM448 808h4v1h-4zM454 808h1v1h-1zM456 808h1v1h-1zM459 808h1v1h-1zM463 808h1v1h-1zM465 808h2v1h-2zM469 808h2v1h-2zM472 808h3v1h-3zM479 808h1v1h-1zM481 808h2v1h-2zM487 808h3v1h-3zM492 808h1v1h-1zM494 808h2v1h-2zM444 809h8v1h-8zM453 809h1v1h-1zM457 809h1v1h-1zM463 809h8v1h-8zM473 809h5v1h-5zM481 809h1v1h-1zM485 809h4v1h-4zM491 809h3v1h-3zM438 810h3v1h-3zM445 810h5v1h-5zM452 810h3v1h-3zM456 810h1v1h-1zM462 810h4v1h-4zM476 810h2v1h-2zM483 810h1v1h-1zM485 810h3v1h-3zM490 810h6v1h-6zM439 811h1v1h-1zM442 811h2v1h-2zM447 811h2v1h-2zM450 811h3v1h-3zM454 811h1v1h-1zM456 811h3v1h-3zM462 811h1v1h-1zM464 811h1v1h-1zM466 811h5v1h-5zM476 811h3v1h-3zM480 811h3v1h-3zM486 811h1v1h-1zM488 811h7v1h-7zM438 812h1v1h-1zM440 812h2v1h-2zM443 812h3v1h-3zM447 812h4v1h-4zM452 812h2v1h-2zM456 812h4v1h-4zM463 812h2v1h-2zM469 812h3v1h-3zM478 812h2v1h-2zM481 812h2v1h-2zM484 812h1v1h-1zM486 812h3v1h-3zM493 812h2v1h-2zM438 813h1v1h-1zM441 813h1v1h-1zM444 813h2v1h-2zM447 813h1v1h-1zM449 813h1v1h-1zM452 813h2v1h-2zM463 813h1v1h-1zM466 813h1v1h-1zM468 813h2v1h-2zM472 813h6v1h-6zM482 813h2v1h-2zM485 813h2v1h-2zM488 813h3v1h-3zM493 813h1v1h-1zM441 814h2v1h-2zM444 814h1v1h-1zM447 814h2v1h-2zM452 814h1v1h-1zM454 814h1v1h-1zM457 814h1v1h-1zM460 814h1v1h-1zM463 814h2v1h-2zM467 814h3v1h-3zM471 814h2v1h-2zM476 814h1v1h-1zM478 814h3v1h-3zM483 814h1v1h-1zM486 814h1v1h-1zM495 814h1v1h-1zM440 815h1v1h-1zM442 815h7v1h-7zM450 815h1v1h-1zM455 815h4v1h-4zM462 815h2v1h-2zM465 815h1v1h-1zM468 815h2v1h-2zM472 815h1v1h-1zM474 815h1v1h-1zM477 815h1v1h-1zM479 815h1v1h-1zM487 815h4v1h-4zM442 816h5v1h-5zM448 816h1v1h-1zM450 816h1v1h-1zM456 816h5v1h-5zM462 816h1v1h-1zM464 816h1v1h-1zM466 816h1v1h-1zM468 816h1v1h-1zM471 816h1v1h-1zM475 816h1v1h-1zM479 816h1v1h-1zM481 816h4v1h-4zM486 816h1v1h-1zM488 816h2v1h-2zM592 864h1v1h-1zM589 865h1v1h-1zM586 866h1v1h-1zM589 866h1v1h-1zM583 867h3v1h-3zM588 867h3v1h-3zM592 867h1v1h-1zM595 867h1v1h-1zM584 868h1v1h-1zM587 868h3v1h-3zM592 868h1v1h-1zM581 869h1v1h-1zM584 869h1v1h-1zM587 869h1v1h-1zM592 869h2v1h-2zM575 870h2v1h-2zM578 870h5v1h-5zM587 870h1v1h-1zM589 870h1v1h-1zM595 870h1v1h-1zM573 871h3v1h-3zM577 871h6v1h-6zM584 871h3v1h-3zM593 871h4v1h-4zM574 872h1v1h-1zM576 872h1v1h-1zM580 872h1v1h-1zM584 872h2v1h-2zM590 872h3v1h-3zM594 872h1v1h-1zM596 872h1v1h-1zM572 873h1v1h-1zM574 873h4v1h-4zM579 873h1v1h-1zM583 873h1v1h-1zM585 873h1v1h-1zM594 873h2v1h-2zM597 873h1v1h-1zM572 874h2v1h-2zM576 874h2v1h-2zM580 874h1v1h-1zM583 874h4v1h-4zM589 874h1v1h-1zM591 874h1v1h-1zM594 874h4v1h-4zM575 875h2v1h-2zM578 875h2v1h-2zM581 875h5v1h-5zM589 875h6v1h-6zM596 875h2v1h-2zM573 876h2v1h-2zM576 876h2v1h-2zM581 876h4v1h-4zM586 876h2v1h-2zM590 876h9v1h-9zM574 877h1v1h-1zM579 877h5v1h-5zM585 877h1v1h-1zM587 877h1v1h-1zM589 877h4v1h-4zM594 877h3v1h-3zM598 877h1v1h-1zM577 878h1v1h-1zM579 878h6v1h-6zM586 878h1v1h-1zM589 878h2v1h-2zM592 878h5v1h-5zM598 878h1v1h-1zM574 879h1v1h-1zM577 879h4v1h-4zM582 879h1v1h-1zM584 879h1v1h-1zM586 879h1v1h-1zM588 879h2v1h-2zM591 879h4v1h-4zM575 880h1v1h-1zM579 880h2v1h-2zM582 880h2v1h-2zM589 880h3v1h-3zM599 880h1v1h-1zM575 881h3v1h-3zM579 881h2v1h-2zM582 881h1v1h-1zM585 881h1v1h-1zM588 881h3v1h-3zM592 881h1v1h-1zM595 881h2v1h-2zM598 881h1v1h-1zM577 882h2v1h-2zM583 882h1v1h-1zM585 882h1v1h-1zM587 882h2v1h-2zM590 882h1v1h-1zM595 882h2v1h-2zM598 882h2v1h-2zM575 883h1v1h-1zM579 883h2v1h-2zM585 883h2v1h-2zM591 883h1v1h-1zM596 883h2v1h-2zM600 883h1v1h-1zM577 884h1v1h-1zM579 884h4v1h-4zM585 884h2v1h-2zM589 884h4v1h-4zM594 884h3v1h-3zM576 885h4v1h-4zM581 885h1v1h-1zM585 885h2v1h-2zM588 885h2v1h-2zM592 885h2v1h-2zM596 885h3v1h-3zM576 886h5v1h-5zM585 886h1v1h-1zM587 886h1v1h-1zM589 886h1v1h-1zM592 886h5v1h-5zM598 886h2v1h-2zM601 886h1v1h-1zM576 887h5v1h-5zM582 887h2v1h-2zM586 887h1v1h-1zM591 887h3v1h-3zM598 887h1v1h-1zM601 887h1v1h-1zM578 888h3v1h-3zM582 888h2v1h-2zM588 888h1v1h-1zM592 888h6v1h-6zM599 888h1v1h-1zM602 888h1v1h-1zM579 889h5v1h-5zM587 889h1v1h-1zM593 889h4v1h-4zM598 889h2v1h-2zM578 890h5v1h-5zM584 890h3v1h-3zM588 890h1v1h-1zM590 890h2v1h-2zM593 890h3v1h-3zM598 890h3v1h-3zM578 891h3v1h-3zM583 891h3v1h-3zM588 891h1v1h-1zM590 891h1v1h-1zM596 891h3v1h-3zM603 891h1v1h-1zM578 892h3v1h-3zM582 892h1v1h-1zM587 892h2v1h-2zM590 892h1v1h-1zM592 892h1v1h-1zM595 892h3v1h-3zM600 892h1v1h-1zM603 892h1v1h-1zM578 893h3v1h-3zM583 893h1v1h-1zM588 893h1v1h-1zM592 893h4v1h-4zM597 893h1v1h-1zM600 893h1v1h-1zM579 894h2v1h-2zM583 894h1v1h-1zM587 894h1v1h-1zM591 894h3v1h-3zM596 894h1v1h-1zM601 894h3v1h-3zM579 895h3v1h-3zM587 895h1v1h-1zM589 895h2v1h-2zM592 895h2v1h-2zM595 895h1v1h-1zM597 895h1v1h-1zM601 895h4v1h-4zM579 896h1v1h-1zM584 896h3v1h-3zM588 896h1v1h-1zM590 896h1v1h-1zM596 896h2v1h-2zM600 896h1v1h-1zM603 896h2v1h-2zM585 897h1v1h-1zM588 897h1v1h-1zM590 897h1v1h-1zM594 897h3v1h-3zM600 897h1v1h-1zM603 897h3v1h-3zM580 898h1v1h-1zM583 898h1v1h-1zM589 898h2v1h-2zM592 898h1v1h-1zM594 898h3v1h-3zM598 898h1v1h-1zM600 898h1v1h-1zM604 898h1v1h-1zM580 899h1v1h-1zM582 899h1v1h-1zM584 899h2v1h-2zM588 899h4v1h-4zM594 899h2v1h-2zM598 899h3v1h-3zM602 899h1v1h-1zM604 899h2v1h-2zM581 900h3v1h-3zM585 900h1v1h-1zM588 900h2v1h-2zM591 900h1v1h-1zM594 900h4v1h-4zM602 900h2v1h-2zM605 900h1v1h-1zM581 901h3v1h-3zM585 901h1v1h-1zM587 901h1v1h-1zM590 901h1v1h-1zM592 901h2v1h-2zM595 901h3v1h-3zM600 901h2v1h-2zM603 901h4v1h-4zM582 902h5v1h-5zM588 902h2v1h-2zM592 902h1v1h-1zM595 902h4v1h-4zM604 902h1v1h-1zM583 903h1v1h-1zM585 903h1v1h-1zM588 903h1v1h-1zM591 903h3v1h-3zM596 903h3v1h-3zM602 903h2v1h-2zM606 903h1v1h-1zM584 904h5v1h-5zM592 904h1v1h-1zM594 904h2v1h-2zM597 904h2v1h-2zM601 904h3v1h-3zM605 904h1v1h-1zM607 904h1v1h-1zM582 905h1v1h-1zM584 905h3v1h-3zM590 905h1v1h-1zM594 905h1v1h-1zM596 905h1v1h-1zM598 905h3v1h-3zM603 905h1v1h-1zM605 905h2v1h-2zM589 906h1v1h-1zM592 906h2v1h-2zM596 906h4v1h-4zM602 906h4v1h-4zM583 907h3v1h-3zM587 907h1v1h-1zM592 907h1v1h-1zM594 907h1v1h-1zM596 907h2v1h-2zM600 907h4v1h-4zM583 908h5v1h-5zM590 908h1v1h-1zM592 908h1v1h-1zM595 908h4v1h-4zM600 908h1v1h-1zM606 908h1v1h-1zM584 909h3v1h-3zM595 909h3v1h-3zM601 909h1v1h-1zM605 909h2v1h-2zM584 910h1v1h-1zM586 910h1v1h-1zM593 910h7v1h-7zM601 910h1v1h-1zM604 910h2v1h-2zM608 910h1v1h-1zM584 911h1v1h-1zM587 911h1v1h-1zM592 911h1v1h-1zM594 911h5v1h-5zM600 911h1v1h-1zM603 911h2v1h-2zM608 911h2v1h-2zM585 912h2v1h-2zM591 912h1v1h-1zM593 912h5v1h-5zM601 912h3v1h-3zM608 912h1v1h-1zM586 913h1v1h-1zM593 913h4v1h-4zM603 913h1v1h-1zM607 913h3v1h-3zM586 914h1v1h-1zM588 914h6v1h-6zM595 914h2v1h-2zM599 914h2v1h-2zM602 914h4v1h-4zM607 914h2v1h-2zM586 915h2v1h-2zM589 915h1v1h-1zM592 915h3v1h-3zM597 915h1v1h-1zM600 915h1v1h-1zM602 915h1v1h-1zM604 915h1v1h-1zM606 915h2v1h-2zM610 915h1v1h-1zM586 916h1v1h-1zM589 916h1v1h-1zM592 916h2v1h-2zM595 916h3v1h-3zM601 916h2v1h-2zM610 916h2v1h-2zM587 917h1v1h-1zM590 917h1v1h-1zM594 917h2v1h-2zM597 917h3v1h-3zM601 917h2v1h-2zM605 917h1v1h-1zM607 917h5v1h-5zM587 918h2v1h-2zM590 918h1v1h-1zM593 918h2v1h-2zM596 918h1v1h-1zM598 918h5v1h-5zM604 918h1v1h-1zM608 918h4v1h-4zM587 919h3v1h-3zM591 919h7v1h-7zM605 919h1v1h-1zM587 920h2v1h-2zM593 920h4v1h-4zM599 920h1v1h-1zM605 920h1v1h-1zM588 921h1v1h-1zM590 921h1v1h-1zM593 921h2v1h-2zM597 921h1v1h-1zM588 922h1v1h-1zM590 922h1v1h-1zM593 922h1v1h-1zM595 922h2v1h-2zM599 922h1v1h-1zM589 923h1v1h-1zM592 923h1v1h-1zM596 923h1v1h-1zM591 924h3v1h-3zM556 1017h1v1h-1zM556 1018h3v1h-3zM560 1018h2v1h-2zM553 1019h2v1h-2zM556 1019h1v1h-1zM559 1019h3v1h-3zM553 1020h1v1h-1zM556 1020h2v1h-2zM560 1020h1v1h-1zM563 1020h1v1h-1zM563 1021h2v1h-2zM549 1022h1v1h-1zM557 1022h1v1h-1zM560 1022h3v1h-3zM550 1023h2v1h-2zM553 1023h3v1h-3zM557 1023h2v1h-2zM564 1023h2v1h-2zM549 1024h1v1h-1zM563 1024h2v1h-2zM566 1024h1v1h-1zM545 1025h1v1h-1zM548 1025h1v1h-1zM550 1025h1v1h-1zM553 1025h1v1h-1zM556 1025h1v1h-1zM558 1025h2v1h-2zM562 1025h6v1h-6zM544 1026h2v1h-2zM550 1026h2v1h-2zM553 1026h1v1h-1zM558 1026h2v1h-2zM564 1026h3v1h-3zM568 1026h1v1h-1zM542 1027h5v1h-5zM551 1027h1v1h-1zM553 1027h1v1h-1zM555 1027h5v1h-5zM562 1027h1v1h-1zM566 1027h1v1h-1zM568 1027h2v1h-2zM541 1028h2v1h-2zM545 1028h4v1h-4zM550 1028h1v1h-1zM556 1028h1v1h-1zM559 1028h1v1h-1zM561 1028h2v1h-2zM566 1028h3v1h-3zM541 1029h2v1h-2zM545 1029h1v1h-1zM547 1029h1v1h-1zM553 1029h1v1h-1zM556 1029h3v1h-3zM561 1029h3v1h-3zM565 1029h1v1h-1zM542 1030h1v1h-1zM544 1030h1v1h-1zM548 1030h3v1h-3zM554 1030h1v1h-1zM556 1030h1v1h-1zM561 1030h4v1h-4zM566 1030h6v1h-6zM537 1031h1v1h-1zM540 1031h3v1h-3zM544 1031h1v1h-1zM546 1031h1v1h-1zM548 1031h1v1h-1zM553 1031h2v1h-2zM556 1031h2v1h-2zM560 1031h2v1h-2zM564 1031h7v1h-7zM536 1032h2v1h-2zM539 1032h1v1h-1zM542 1032h1v1h-1zM544 1032h2v1h-2zM548 1032h1v1h-1zM550 1032h1v1h-1zM552 1032h2v1h-2zM555 1032h1v1h-1zM557 1032h1v1h-1zM564 1032h2v1h-2zM567 1032h3v1h-3zM571 1032h1v1h-1zM534 1033h3v1h-3zM538 1033h1v1h-1zM541 1033h7v1h-7zM551 1033h2v1h-2zM556 1033h1v1h-1zM558 1033h1v1h-1zM561 1033h1v1h-1zM566 1033h2v1h-2zM569 1033h5v1h-5zM534 1034h2v1h-2zM538 1034h1v1h-1zM540 1034h1v1h-1zM544 1034h1v1h-1zM547 1034h1v1h-1zM550 1034h2v1h-2zM553 1034h2v1h-2zM556 1034h2v1h-2zM559 1034h1v1h-1zM561 1034h4v1h-4zM567 1034h4v1h-4zM574 1034h1v1h-1zM531 1035h4v1h-4zM536 1035h5v1h-5zM544 1035h2v1h-2zM547 1035h2v1h-2zM552 1035h1v1h-1zM555 1035h6v1h-6zM562 1035h1v1h-1zM568 1035h1v1h-1zM570 1035h2v1h-2zM530 1036h1v1h-1zM534 1036h1v1h-1zM537 1036h4v1h-4zM544 1036h1v1h-1zM548 1036h1v1h-1zM550 1036h4v1h-4zM556 1036h1v1h-1zM558 1036h2v1h-2zM562 1036h1v1h-1zM564 1036h1v1h-1zM568 1036h1v1h-1zM570 1036h1v1h-1zM529 1037h4v1h-4zM537 1037h2v1h-2zM540 1037h3v1h-3zM545 1037h1v1h-1zM547 1037h4v1h-4zM552 1037h4v1h-4zM557 1037h4v1h-4zM563 1037h1v1h-1zM566 1037h2v1h-2zM569 1037h1v1h-1zM528 1038h1v1h-1zM532 1038h1v1h-1zM539 1038h7v1h-7zM547 1038h6v1h-6zM555 1038h3v1h-3zM559 1038h1v1h-1zM561 1038h1v1h-1zM563 1038h1v1h-1zM566 1038h2v1h-2zM532 1039h2v1h-2zM536 1039h1v1h-1zM541 1039h2v1h-2zM547 1039h1v1h-1zM549 1039h6v1h-6zM556 1039h1v1h-1zM559 1039h3v1h-3zM565 1039h1v1h-1zM567 1039h1v1h-1zM526 1040h4v1h-4zM533 1040h2v1h-2zM536 1040h2v1h-2zM540 1040h1v1h-1zM547 1040h1v1h-1zM549 1040h2v1h-2zM552 1040h5v1h-5zM559 1040h1v1h-1zM561 1040h2v1h-2zM524 1041h1v1h-1zM529 1041h1v1h-1zM534 1041h3v1h-3zM538 1041h4v1h-4zM543 1041h1v1h-1zM545 1041h2v1h-2zM552 1041h2v1h-2zM556 1041h1v1h-1zM560 1041h2v1h-2zM522 1042h7v1h-7zM532 1042h1v1h-1zM534 1042h6v1h-6zM541 1042h3v1h-3zM545 1042h4v1h-4zM550 1042h6v1h-6zM557 1042h1v1h-1zM559 1042h3v1h-3zM520 1043h2v1h-2zM523 1043h1v1h-1zM528 1043h1v1h-1zM530 1043h1v1h-1zM532 1043h1v1h-1zM534 1043h1v1h-1zM536 1043h2v1h-2zM541 1043h13v1h-13zM555 1043h1v1h-1zM558 1043h3v1h-3zM519 1044h1v1h-1zM521 1044h5v1h-5zM527 1044h2v1h-2zM532 1044h2v1h-2zM537 1044h1v1h-1zM539 1044h7v1h-7zM548 1044h4v1h-4zM554 1044h1v1h-1zM556 1044h2v1h-2zM560 1044h1v1h-1zM519 1045h3v1h-3zM523 1045h1v1h-1zM527 1045h1v1h-1zM530 1045h1v1h-1zM536 1045h9v1h-9zM546 1045h1v1h-1zM550 1045h3v1h-3zM554 1045h1v1h-1zM558 1045h1v1h-1zM516 1046h2v1h-2zM519 1046h3v1h-3zM526 1046h1v1h-1zM528 1046h1v1h-1zM530 1046h1v1h-1zM532 1046h3v1h-3zM536 1046h2v1h-2zM543 1046h2v1h-2zM547 1046h1v1h-1zM552 1046h2v1h-2zM556 1046h1v1h-1zM516 1047h2v1h-2zM519 1047h1v1h-1zM521 1047h2v1h-2zM526 1047h1v1h-1zM529 1047h3v1h-3zM534 1047h1v1h-1zM536 1047h1v1h-1zM544 1047h1v1h-1zM546 1047h1v1h-1zM549 1047h1v1h-1zM551 1047h1v1h-1zM556 1047h1v1h-1zM516 1048h1v1h-1zM520 1048h1v1h-1zM522 1048h1v1h-1zM525 1048h1v1h-1zM529 1048h1v1h-1zM532 1048h1v1h-1zM535 1048h2v1h-2zM538 1048h4v1h-4zM547 1048h1v1h-1zM552 1048h3v1h-3zM515 1049h1v1h-1zM522 1049h2v1h-2zM528 1049h5v1h-5zM537 1049h1v1h-1zM548 1049h1v1h-1zM551 1049h2v1h-2zM518 1050h1v1h-1zM521 1050h3v1h-3zM526 1050h1v1h-1zM530 1050h2v1h-2zM533 1050h1v1h-1zM535 1050h1v1h-1zM539 1050h1v1h-1zM543 1050h1v1h-1zM545 1050h1v1h-1zM548 1050h3v1h-3zM516 1051h2v1h-2zM519 1051h1v1h-1zM521 1051h7v1h-7zM529 1051h3v1h-3zM534 1051h1v1h-1zM536 1051h1v1h-1zM538 1051h1v1h-1zM543 1051h5v1h-5zM549 1051h2v1h-2zM517 1052h1v1h-1zM520 1052h1v1h-1zM524 1052h1v1h-1zM527 1052h5v1h-5zM533 1052h3v1h-3zM537 1052h7v1h-7zM548 1052h2v1h-2zM524 1053h2v1h-2zM527 1053h5v1h-5zM538 1053h2v1h-2zM542 1053h1v1h-1zM545 1053h1v1h-1zM520 1054h3v1h-3zM525 1054h1v1h-1zM528 1054h5v1h-5zM535 1054h1v1h-1zM538 1054h3v1h-3zM519 1055h2v1h-2zM523 1055h2v1h-2zM527 1055h3v1h-3zM532 1055h1v1h-1zM534 1055h1v1h-1zM539 1055h1v1h-1zM543 1055h1v1h-1zM520 1056h1v1h-1zM522 1056h4v1h-4zM528 1056h3v1h-3zM532 1056h2v1h-2zM536 1056h1v1h-1zM538 1056h3v1h-3zM543 1056h1v1h-1zM520 1057h3v1h-3zM524 1057h3v1h-3zM529 1057h1v1h-1zM533 1057h1v1h-1zM536 1057h2v1h-2zM539 1057h2v1h-2zM542 1057h1v1h-1zM522 1058h1v1h-1zM525 1058h1v1h-1zM527 1058h2v1h-2zM530 1058h1v1h-1zM534 1058h6v1h-6zM522 1059h1v1h-1zM524 1059h1v1h-1zM527 1059h4v1h-4zM533 1059h1v1h-1zM535 1059h1v1h-1zM537 1059h1v1h-1zM539 1059h1v1h-1zM523 1060h4v1h-4zM528 1060h1v1h-1zM531 1060h2v1h-2zM536 1060h2v1h-2zM523 1061h1v1h-1zM525 1061h7v1h-7zM533 1061h2v1h-2zM536 1061h1v1h-1zM525 1062h3v1h-3zM529 1062h1v1h-1zM534 1062h2v1h-2zM525 1063h7v1h-7zM533 1063h2v1h-2zM525 1064h2v1h-2zM532 1064h1v1h-1zM527 1065h1v1h-1zM531 1065h1v1h-1zM527 1066h2v1h-2zM528 1067h1v1h-1zM373 1017h1v1h-1zM376 1017h1v1h-1zM372 1018h1v1h-1zM374 1018h2v1h-2zM378 1018h1v1h-1zM371 1019h1v1h-1zM373 1019h5v1h-5zM374 1020h1v1h-1zM376 1020h1v1h-1zM379 1020h3v1h-3zM372 1021h2v1h-2zM377 1021h1v1h-1zM379 1021h2v1h-2zM383 1021h1v1h-1zM374 1022h2v1h-2zM378 1022h1v1h-1zM382 1022h2v1h-2zM369 1023h1v1h-1zM372 1023h1v1h-1zM376 1023h2v1h-2zM379 1023h1v1h-1zM385 1023h1v1h-1zM369 1024h2v1h-2zM375 1024h6v1h-6zM382 1024h1v1h-1zM384 1024h4v1h-4zM368 1025h1v1h-1zM373 1025h1v1h-1zM377 1025h1v1h-1zM379 1025h1v1h-1zM383 1025h2v1h-2zM386 1025h3v1h-3zM366 1026h1v1h-1zM368 1026h3v1h-3zM375 1026h1v1h-1zM379 1026h2v1h-2zM385 1026h6v1h-6zM367 1027h2v1h-2zM370 1027h2v1h-2zM379 1027h2v1h-2zM384 1027h1v1h-1zM387 1027h5v1h-5zM364 1028h1v1h-1zM366 1028h1v1h-1zM371 1028h2v1h-2zM374 1028h1v1h-1zM377 1028h1v1h-1zM380 1028h4v1h-4zM387 1028h1v1h-1zM389 1028h4v1h-4zM363 1029h3v1h-3zM370 1029h4v1h-4zM377 1029h1v1h-1zM379 1029h3v1h-3zM383 1029h2v1h-2zM388 1029h3v1h-3zM392 1029h1v1h-1zM394 1029h1v1h-1zM363 1030h4v1h-4zM373 1030h1v1h-1zM376 1030h6v1h-6zM384 1030h1v1h-1zM387 1030h1v1h-1zM390 1030h1v1h-1zM394 1030h2v1h-2zM362 1031h1v1h-1zM365 1031h1v1h-1zM369 1031h2v1h-2zM375 1031h4v1h-4zM380 1031h2v1h-2zM389 1031h2v1h-2zM392 1031h5v1h-5zM368 1032h5v1h-5zM377 1032h2v1h-2zM381 1032h1v1h-1zM384 1032h2v1h-2zM389 1032h7v1h-7zM397 1032h1v1h-1zM360 1033h1v1h-1zM366 1033h2v1h-2zM370 1033h1v1h-1zM376 1033h1v1h-1zM379 1033h1v1h-1zM382 1033h1v1h-1zM384 1033h2v1h-2zM388 1033h5v1h-5zM396 1033h2v1h-2zM363 1034h5v1h-5zM373 1034h1v1h-1zM375 1034h5v1h-5zM382 1034h1v1h-1zM384 1034h10v1h-10zM395 1034h1v1h-1zM397 1034h1v1h-1zM401 1034h1v1h-1zM362 1035h3v1h-3zM366 1035h1v1h-1zM371 1035h1v1h-1zM373 1035h1v1h-1zM376 1035h1v1h-1zM378 1035h1v1h-1zM380 1035h1v1h-1zM384 1035h1v1h-1zM386 1035h1v1h-1zM388 1035h5v1h-5zM395 1035h1v1h-1zM398 1035h1v1h-1zM400 1035h3v1h-3zM363 1036h1v1h-1zM365 1036h1v1h-1zM367 1036h1v1h-1zM370 1036h1v1h-1zM372 1036h2v1h-2zM378 1036h3v1h-3zM382 1036h1v1h-1zM385 1036h2v1h-2zM389 1036h1v1h-1zM392 1036h3v1h-3zM398 1036h2v1h-2zM402 1036h1v1h-1zM364 1037h2v1h-2zM367 1037h1v1h-1zM371 1037h4v1h-4zM378 1037h3v1h-3zM383 1037h1v1h-1zM386 1037h3v1h-3zM391 1037h3v1h-3zM397 1037h2v1h-2zM401 1037h1v1h-1zM403 1037h2v1h-2zM366 1038h2v1h-2zM369 1038h3v1h-3zM373 1038h1v1h-1zM377 1038h1v1h-1zM380 1038h1v1h-1zM382 1038h2v1h-2zM388 1038h1v1h-1zM392 1038h1v1h-1zM394 1038h2v1h-2zM398 1038h1v1h-1zM400 1038h6v1h-6zM368 1039h4v1h-4zM375 1039h1v1h-1zM377 1039h1v1h-1zM380 1039h1v1h-1zM382 1039h1v1h-1zM384 1039h3v1h-3zM389 1039h1v1h-1zM392 1039h1v1h-1zM395 1039h1v1h-1zM398 1039h4v1h-4zM403 1039h3v1h-3zM368 1040h3v1h-3zM373 1040h2v1h-2zM376 1040h2v1h-2zM379 1040h9v1h-9zM389 1040h1v1h-1zM392 1040h2v1h-2zM395 1040h9v1h-9zM406 1040h1v1h-1zM408 1040h1v1h-1zM370 1041h1v1h-1zM379 1041h1v1h-1zM381 1041h1v1h-1zM383 1041h1v1h-1zM387 1041h1v1h-1zM389 1041h2v1h-2zM393 1041h1v1h-1zM398 1041h2v1h-2zM402 1041h1v1h-1zM405 1041h6v1h-6zM371 1042h1v1h-1zM375 1042h1v1h-1zM377 1042h2v1h-2zM380 1042h2v1h-2zM383 1042h1v1h-1zM385 1042h1v1h-1zM388 1042h2v1h-2zM391 1042h1v1h-1zM394 1042h2v1h-2zM397 1042h2v1h-2zM400 1042h2v1h-2zM404 1042h2v1h-2zM408 1042h5v1h-5zM372 1043h1v1h-1zM375 1043h3v1h-3zM379 1043h2v1h-2zM382 1043h1v1h-1zM384 1043h1v1h-1zM386 1043h1v1h-1zM388 1043h3v1h-3zM392 1043h3v1h-3zM397 1043h1v1h-1zM400 1043h4v1h-4zM406 1043h3v1h-3zM410 1043h2v1h-2zM413 1043h1v1h-1zM374 1044h2v1h-2zM380 1044h1v1h-1zM382 1044h2v1h-2zM388 1044h3v1h-3zM399 1044h3v1h-3zM405 1044h6v1h-6zM412 1044h1v1h-1zM375 1045h1v1h-1zM379 1045h3v1h-3zM383 1045h1v1h-1zM385 1045h3v1h-3zM390 1045h1v1h-1zM392 1045h1v1h-1zM396 1045h2v1h-2zM400 1045h2v1h-2zM403 1045h1v1h-1zM405 1045h7v1h-7zM414 1045h2v1h-2zM377 1046h1v1h-1zM380 1046h9v1h-9zM390 1046h6v1h-6zM397 1046h2v1h-2zM401 1046h1v1h-1zM412 1046h3v1h-3zM379 1047h3v1h-3zM383 1047h1v1h-1zM385 1047h3v1h-3zM389 1047h1v1h-1zM391 1047h2v1h-2zM394 1047h2v1h-2zM397 1047h1v1h-1zM401 1047h5v1h-5zM414 1047h2v1h-2zM417 1047h1v1h-1zM381 1048h3v1h-3zM386 1048h1v1h-1zM388 1048h1v1h-1zM390 1048h1v1h-1zM392 1048h4v1h-4zM397 1048h1v1h-1zM402 1048h1v1h-1zM407 1048h2v1h-2zM410 1048h1v1h-1zM414 1048h5v1h-5zM382 1049h1v1h-1zM385 1049h1v1h-1zM390 1049h1v1h-1zM393 1049h1v1h-1zM395 1049h3v1h-3zM403 1049h2v1h-2zM408 1049h1v1h-1zM410 1049h2v1h-2zM413 1049h4v1h-4zM382 1050h2v1h-2zM386 1050h1v1h-1zM388 1050h3v1h-3zM392 1050h1v1h-1zM394 1050h4v1h-4zM399 1050h1v1h-1zM401 1050h2v1h-2zM404 1050h1v1h-1zM406 1050h2v1h-2zM409 1050h1v1h-1zM412 1050h1v1h-1zM417 1050h1v1h-1zM383 1051h1v1h-1zM389 1051h1v1h-1zM392 1051h1v1h-1zM394 1051h1v1h-1zM397 1051h2v1h-2zM401 1051h4v1h-4zM407 1051h2v1h-2zM410 1051h1v1h-1zM413 1051h4v1h-4zM386 1052h1v1h-1zM388 1052h1v1h-1zM390 1052h1v1h-1zM393 1052h1v1h-1zM395 1052h1v1h-1zM398 1052h1v1h-1zM400 1052h6v1h-6zM407 1052h1v1h-1zM409 1052h1v1h-1zM412 1052h4v1h-4zM417 1052h1v1h-1zM386 1053h7v1h-7zM397 1053h3v1h-3zM401 1053h2v1h-2zM404 1053h1v1h-1zM412 1053h2v1h-2zM416 1053h1v1h-1zM387 1054h1v1h-1zM389 1054h7v1h-7zM397 1054h2v1h-2zM401 1054h3v1h-3zM406 1054h1v1h-1zM411 1054h1v1h-1zM414 1054h2v1h-2zM389 1055h2v1h-2zM393 1055h1v1h-1zM398 1055h1v1h-1zM400 1055h1v1h-1zM403 1055h1v1h-1zM406 1055h1v1h-1zM411 1055h2v1h-2zM414 1055h1v1h-1zM391 1056h2v1h-2zM394 1056h1v1h-1zM398 1056h1v1h-1zM402 1056h2v1h-2zM407 1056h1v1h-1zM409 1056h1v1h-1zM412 1056h1v1h-1zM414 1056h1v1h-1zM393 1057h1v1h-1zM396 1057h1v1h-1zM398 1057h1v1h-1zM400 1057h2v1h-2zM404 1057h1v1h-1zM407 1057h1v1h-1zM409 1057h4v1h-4zM394 1058h1v1h-1zM396 1058h1v1h-1zM398 1058h3v1h-3zM403 1058h4v1h-4zM408 1058h5v1h-5zM396 1059h1v1h-1zM398 1059h2v1h-2zM403 1059h2v1h-2zM406 1059h1v1h-1zM409 1059h2v1h-2zM412 1059h1v1h-1zM398 1060h2v1h-2zM403 1060h1v1h-1zM407 1060h2v1h-2zM410 1060h2v1h-2zM397 1061h1v1h-1zM400 1061h1v1h-1zM407 1061h1v1h-1zM409 1061h2v1h-2zM400 1062h1v1h-1zM402 1062h2v1h-2zM409 1062h1v1h-1zM400 1063h1v1h-1zM404 1063h3v1h-3zM409 1063h1v1h-1zM401 1064h1v1h-1zM403 1064h2v1h-2zM407 1064h1v1h-1zM403 1065h5v1h-5zM340 864h2v1h-2zM339 865h2v1h-2zM342 865h2v1h-2zM339 866h2v1h-2zM342 866h4v1h-4zM339 867h5v1h-5zM345 867h4v1h-4zM350 867h1v1h-1zM338 868h5v1h-5zM344 868h2v1h-2zM347 868h1v1h-1zM351 868h1v1h-1zM338 869h4v1h-4zM344 869h4v1h-4zM349 869h4v1h-4zM338 870h1v1h-1zM343 870h2v1h-2zM347 870h2v1h-2zM352 870h2v1h-2zM357 870h1v1h-1zM337 871h1v1h-1zM342 871h4v1h-4zM347 871h1v1h-1zM349 871h1v1h-1zM351 871h3v1h-3zM355 871h1v1h-1zM359 871h3v1h-3zM337 872h1v1h-1zM340 872h5v1h-5zM347 872h1v1h-1zM349 872h3v1h-3zM354 872h1v1h-1zM358 872h1v1h-1zM360 872h2v1h-2zM338 873h1v1h-1zM341 873h4v1h-4zM346 873h1v1h-1zM349 873h1v1h-1zM352 873h1v1h-1zM355 873h1v1h-1zM357 873h3v1h-3zM361 873h1v1h-1zM338 874h3v1h-3zM342 874h2v1h-2zM346 874h2v1h-2zM349 874h1v1h-1zM352 874h1v1h-1zM355 874h6v1h-6zM339 875h3v1h-3zM343 875h1v1h-1zM345 875h2v1h-2zM350 875h1v1h-1zM352 875h2v1h-2zM357 875h3v1h-3zM336 876h2v1h-2zM339 876h1v1h-1zM341 876h3v1h-3zM345 876h2v1h-2zM348 876h1v1h-1zM352 876h5v1h-5zM358 876h1v1h-1zM338 877h1v1h-1zM342 877h2v1h-2zM345 877h6v1h-6zM352 877h1v1h-1zM354 877h3v1h-3zM359 877h2v1h-2zM335 878h1v1h-1zM338 878h1v1h-1zM340 878h1v1h-1zM344 878h2v1h-2zM349 878h2v1h-2zM356 878h3v1h-3zM335 879h5v1h-5zM341 879h3v1h-3zM349 879h2v1h-2zM353 879h1v1h-1zM356 879h1v1h-1zM358 879h3v1h-3zM334 880h1v1h-1zM336 880h1v1h-1zM341 880h1v1h-1zM350 880h2v1h-2zM354 880h1v1h-1zM357 880h2v1h-2zM334 881h1v1h-1zM337 881h2v1h-2zM342 881h2v1h-2zM349 881h2v1h-2zM353 881h1v1h-1zM357 881h1v1h-1zM359 881h1v1h-1zM335 882h4v1h-4zM340 882h2v1h-2zM343 882h2v1h-2zM349 882h3v1h-3zM354 882h1v1h-1zM358 882h1v1h-1zM334 883h1v1h-1zM337 883h4v1h-4zM342 883h1v1h-1zM345 883h2v1h-2zM348 883h2v1h-2zM351 883h4v1h-4zM358 883h1v1h-1zM333 884h5v1h-5zM339 884h3v1h-3zM343 884h2v1h-2zM346 884h1v1h-1zM351 884h2v1h-2zM355 884h1v1h-1zM357 884h2v1h-2zM333 885h2v1h-2zM336 885h1v1h-1zM339 885h2v1h-2zM343 885h4v1h-4zM348 885h2v1h-2zM351 885h2v1h-2zM354 885h2v1h-2zM357 885h2v1h-2zM333 886h2v1h-2zM336 886h1v1h-1zM340 886h1v1h-1zM344 886h2v1h-2zM347 886h3v1h-3zM352 886h1v1h-1zM355 886h1v1h-1zM332 887h2v1h-2zM335 887h1v1h-1zM338 887h2v1h-2zM341 887h2v1h-2zM344 887h3v1h-3zM349 887h1v1h-1zM352 887h4v1h-4zM333 888h2v1h-2zM336 888h6v1h-6zM344 888h1v1h-1zM348 888h6v1h-6zM357 888h1v1h-1zM331 889h7v1h-7zM340 889h1v1h-1zM344 889h3v1h-3zM350 889h4v1h-4zM332 890h1v1h-1zM334 890h3v1h-3zM340 890h3v1h-3zM344 890h3v1h-3zM349 890h2v1h-2zM352 890h3v1h-3zM356 890h1v1h-1zM332 891h2v1h-2zM335 891h1v1h-1zM337 891h1v1h-1zM343 891h2v1h-2zM348 891h1v1h-1zM350 891h1v1h-1zM352 891h1v1h-1zM354 891h2v1h-2zM332 892h2v1h-2zM339 892h1v1h-1zM343 892h1v1h-1zM346 892h1v1h-1zM350 892h1v1h-1zM352 892h4v1h-4zM330 893h1v1h-1zM334 893h1v1h-1zM340 893h1v1h-1zM343 893h1v1h-1zM345 893h1v1h-1zM349 893h7v1h-7zM330 894h1v1h-1zM333 894h2v1h-2zM337 894h1v1h-1zM342 894h1v1h-1zM344 894h3v1h-3zM348 894h1v1h-1zM350 894h4v1h-4zM355 894h1v1h-1zM330 895h3v1h-3zM334 895h1v1h-1zM337 895h2v1h-2zM340 895h2v1h-2zM344 895h2v1h-2zM350 895h5v1h-5zM329 896h5v1h-5zM335 896h1v1h-1zM340 896h1v1h-1zM343 896h1v1h-1zM345 896h2v1h-2zM349 896h2v1h-2zM353 896h2v1h-2zM329 897h4v1h-4zM335 897h1v1h-1zM339 897h3v1h-3zM343 897h2v1h-2zM329 898h2v1h-2zM340 898h9v1h-9zM350 898h4v1h-4zM332 899h1v1h-1zM336 899h3v1h-3zM340 899h1v1h-1zM342 899h2v1h-2zM346 899h1v1h-1zM348 899h3v1h-3zM353 899h1v1h-1zM328 900h2v1h-2zM331 900h2v1h-2zM334 900h10v1h-10zM348 900h1v1h-1zM352 900h2v1h-2zM331 901h1v1h-1zM334 901h1v1h-1zM337 901h1v1h-1zM339 901h1v1h-1zM342 901h2v1h-2zM346 901h4v1h-4zM328 902h1v1h-1zM330 902h2v1h-2zM342 902h1v1h-1zM344 902h1v1h-1zM348 902h2v1h-2zM328 903h2v1h-2zM331 903h2v1h-2zM335 903h3v1h-3zM339 903h2v1h-2zM342 903h1v1h-1zM347 903h1v1h-1zM349 903h2v1h-2zM336 904h4v1h-4zM341 904h3v1h-3zM345 904h1v1h-1zM349 904h1v1h-1zM326 905h1v1h-1zM328 905h4v1h-4zM333 905h1v1h-1zM337 905h1v1h-1zM342 905h2v1h-2zM346 905h1v1h-1zM349 905h2v1h-2zM326 906h2v1h-2zM333 906h2v1h-2zM337 906h2v1h-2zM340 906h2v1h-2zM346 906h3v1h-3zM326 907h1v1h-1zM330 907h4v1h-4zM335 907h4v1h-4zM344 907h2v1h-2zM348 907h2v1h-2zM327 908h1v1h-1zM330 908h2v1h-2zM333 908h4v1h-4zM339 908h2v1h-2zM342 908h1v1h-1zM344 908h2v1h-2zM349 908h2v1h-2zM330 909h3v1h-3zM334 909h2v1h-2zM339 909h2v1h-2zM342 909h1v1h-1zM344 909h2v1h-2zM325 910h8v1h-8zM335 910h3v1h-3zM340 910h4v1h-4zM345 910h2v1h-2zM348 910h2v1h-2zM324 911h3v1h-3zM330 911h2v1h-2zM336 911h2v1h-2zM339 911h1v1h-1zM342 911h1v1h-1zM344 911h2v1h-2zM349 911h1v1h-1zM326 912h1v1h-1zM330 912h2v1h-2zM333 912h1v1h-1zM339 912h3v1h-3zM345 912h2v1h-2zM348 912h2v1h-2zM326 913h3v1h-3zM332 913h2v1h-2zM339 913h1v1h-1zM344 913h1v1h-1zM346 913h2v1h-2zM323 914h2v1h-2zM326 914h2v1h-2zM332 914h1v1h-1zM334 914h1v1h-1zM336 914h2v1h-2zM339 914h1v1h-1zM343 914h2v1h-2zM346 914h1v1h-1zM348 914h1v1h-1zM325 915h2v1h-2zM328 915h1v1h-1zM330 915h1v1h-1zM332 915h1v1h-1zM337 915h1v1h-1zM344 915h1v1h-1zM346 915h1v1h-1zM348 915h1v1h-1zM323 916h1v1h-1zM325 916h3v1h-3zM329 916h3v1h-3zM335 916h1v1h-1zM337 916h3v1h-3zM343 916h1v1h-1zM345 916h1v1h-1zM322 917h1v1h-1zM330 917h1v1h-1zM333 917h1v1h-1zM343 917h1v1h-1zM346 917h2v1h-2zM322 918h2v1h-2zM325 918h3v1h-3zM330 918h1v1h-1zM332 918h3v1h-3zM336 918h2v1h-2zM343 918h1v1h-1zM326 919h4v1h-4zM332 919h2v1h-2zM336 919h3v1h-3zM340 919h1v1h-1zM343 919h2v1h-2zM346 919h1v1h-1zM328 920h3v1h-3zM336 920h4v1h-4zM346 920h1v1h-1zM338 921h3v1h-3zM344 921h3v1h-3zM334 922h2v1h-2zM339 922h2v1h-2zM342 922h5v1h-5zM338 923h4v1h-4zM343 923h1v1h-1zM341 924h2v1h-2zM1051 719h2v1h-2zM1054 719h1v1h-1zM1057 719h1v1h-1zM1061 719h1v1h-1zM1063 719h4v1h-4zM1069 719h4v1h-4zM1075 719h2v1h-2zM1078 719h1v1h-1zM1081 719h2v1h-2zM1087 719h3v1h-3zM1093 719h4v1h-4zM1100 719h2v1h-2zM1105 719h1v1h-1zM1108 719h1v1h-1zM1110 719h1v1h-1zM1051 720h4v1h-4zM1056 720h1v1h-1zM1058 720h9v1h-9zM1068 720h1v1h-1zM1070 720h1v1h-1zM1072 720h2v1h-2zM1079 720h4v1h-4zM1085 720h1v1h-1zM1088 720h1v1h-1zM1092 720h1v1h-1zM1098 720h4v1h-4zM1103 720h8v1h-8zM1051 721h2v1h-2zM1057 721h2v1h-2zM1060 721h1v1h-1zM1063 721h1v1h-1zM1066 721h1v1h-1zM1068 721h1v1h-1zM1070 721h1v1h-1zM1072 721h2v1h-2zM1077 721h1v1h-1zM1079 721h1v1h-1zM1081 721h1v1h-1zM1084 721h2v1h-2zM1089 721h1v1h-1zM1091 721h1v1h-1zM1096 721h1v1h-1zM1098 721h1v1h-1zM1100 721h1v1h-1zM1104 721h2v1h-2zM1107 721h2v1h-2zM1110 721h1v1h-1zM1112 721h1v1h-1zM1050 722h3v1h-3zM1055 722h3v1h-3zM1061 722h5v1h-5zM1067 722h2v1h-2zM1070 722h1v1h-1zM1072 722h1v1h-1zM1074 722h1v1h-1zM1077 722h1v1h-1zM1082 722h2v1h-2zM1086 722h4v1h-4zM1092 722h1v1h-1zM1095 722h6v1h-6zM1102 722h1v1h-1zM1111 722h1v1h-1zM1050 723h1v1h-1zM1055 723h2v1h-2zM1060 723h3v1h-3zM1065 723h2v1h-2zM1068 723h2v1h-2zM1071 723h4v1h-4zM1077 723h1v1h-1zM1079 723h1v1h-1zM1081 723h3v1h-3zM1086 723h4v1h-4zM1093 723h2v1h-2zM1097 723h1v1h-1zM1099 723h2v1h-2zM1103 723h1v1h-1zM1106 723h1v1h-1zM1108 723h1v1h-1zM1110 723h2v1h-2zM1050 724h1v1h-1zM1057 724h2v1h-2zM1060 724h3v1h-3zM1066 724h1v1h-1zM1068 724h4v1h-4zM1075 724h2v1h-2zM1078 724h3v1h-3zM1082 724h1v1h-1zM1088 724h5v1h-5zM1096 724h2v1h-2zM1101 724h5v1h-5zM1108 724h5v1h-5zM1050 725h1v1h-1zM1053 725h1v1h-1zM1055 725h1v1h-1zM1058 725h1v1h-1zM1061 725h1v1h-1zM1064 725h7v1h-7zM1072 725h3v1h-3zM1076 725h5v1h-5zM1083 725h2v1h-2zM1087 725h6v1h-6zM1095 725h2v1h-2zM1100 725h5v1h-5zM1107 725h1v1h-1zM1109 725h4v1h-4zM1051 726h2v1h-2zM1054 726h3v1h-3zM1058 726h6v1h-6zM1065 726h1v1h-1zM1067 726h4v1h-4zM1073 726h1v1h-1zM1075 726h1v1h-1zM1077 726h2v1h-2zM1080 726h1v1h-1zM1082 726h6v1h-6zM1092 726h3v1h-3zM1100 726h5v1h-5zM1106 726h1v1h-1zM1110 726h1v1h-1zM1112 726h1v1h-1zM1053 727h1v1h-1zM1055 727h1v1h-1zM1057 727h1v1h-1zM1060 727h2v1h-2zM1066 727h1v1h-1zM1068 727h2v1h-2zM1072 727h1v1h-1zM1074 727h1v1h-1zM1076 727h4v1h-4zM1081 727h1v1h-1zM1083 727h3v1h-3zM1088 727h4v1h-4zM1093 727h1v1h-1zM1096 727h2v1h-2zM1100 727h1v1h-1zM1102 727h1v1h-1zM1104 727h2v1h-2zM1108 727h1v1h-1zM1112 727h1v1h-1zM1050 728h1v1h-1zM1053 728h6v1h-6zM1060 728h3v1h-3zM1068 728h2v1h-2zM1072 728h3v1h-3zM1079 728h4v1h-4zM1084 728h2v1h-2zM1089 728h2v1h-2zM1093 728h3v1h-3zM1099 728h1v1h-1zM1101 728h6v1h-6zM1108 728h1v1h-1zM1111 728h2v1h-2zM1051 729h2v1h-2zM1054 729h3v1h-3zM1058 729h2v1h-2zM1062 729h4v1h-4zM1067 729h1v1h-1zM1072 729h3v1h-3zM1076 729h2v1h-2zM1081 729h1v1h-1zM1084 729h3v1h-3zM1090 729h1v1h-1zM1092 729h3v1h-3zM1096 729h1v1h-1zM1098 729h1v1h-1zM1104 729h1v1h-1zM1106 729h2v1h-2zM1111 729h1v1h-1zM1050 730h1v1h-1zM1052 730h5v1h-5zM1058 730h1v1h-1zM1062 730h3v1h-3zM1066 730h1v1h-1zM1070 730h2v1h-2zM1073 730h1v1h-1zM1076 730h1v1h-1zM1078 730h1v1h-1zM1082 730h1v1h-1zM1084 730h2v1h-2zM1088 730h2v1h-2zM1092 730h1v1h-1zM1094 730h1v1h-1zM1096 730h2v1h-2zM1099 730h1v1h-1zM1103 730h1v1h-1zM1106 730h1v1h-1zM1053 731h1v1h-1zM1068 731h1v1h-1zM1070 731h4v1h-4zM1077 731h1v1h-1zM1080 731h2v1h-2zM1087 731h2v1h-2zM1090 731h3v1h-3zM1103 731h2v1h-2zM1110 731h1v1h-1zM1050 732h1v1h-1zM1052 732h1v1h-1zM1054 732h2v1h-2zM1057 732h1v1h-1zM1062 732h1v1h-1zM1066 732h1v1h-1zM1070 732h1v1h-1zM1072 732h3v1h-3zM1078 732h2v1h-2zM1081 732h4v1h-4zM1086 732h2v1h-2zM1090 732h2v1h-2zM1093 732h3v1h-3zM1097 732h1v1h-1zM1101 732h1v1h-1zM1104 732h1v1h-1zM1106 732h2v1h-2zM1109 732h3v1h-3zM1051 733h3v1h-3zM1058 733h2v1h-2zM1062 733h1v1h-1zM1069 733h4v1h-4zM1075 733h1v1h-1zM1080 733h1v1h-1zM1082 733h2v1h-2zM1086 733h1v1h-1zM1089 733h1v1h-1zM1091 733h2v1h-2zM1095 733h1v1h-1zM1097 733h1v1h-1zM1101 733h2v1h-2zM1104 733h1v1h-1zM1107 733h3v1h-3zM1111 733h2v1h-2zM1050 734h2v1h-2zM1053 734h2v1h-2zM1063 734h1v1h-1zM1065 734h1v1h-1zM1071 734h6v1h-6zM1078 734h2v1h-2zM1081 734h2v1h-2zM1085 734h1v1h-1zM1087 734h1v1h-1zM1090 734h2v1h-2zM1094 734h1v1h-1zM1097 734h2v1h-2zM1102 734h1v1h-1zM1107 734h1v1h-1zM1111 734h2v1h-2zM1052 735h3v1h-3zM1056 735h2v1h-2zM1062 735h1v1h-1zM1069 735h1v1h-1zM1071 735h1v1h-1zM1073 735h1v1h-1zM1076 735h1v1h-1zM1078 735h3v1h-3zM1082 735h7v1h-7zM1090 735h1v1h-1zM1092 735h2v1h-2zM1096 735h1v1h-1zM1098 735h1v1h-1zM1103 735h1v1h-1zM1105 735h2v1h-2zM1111 735h2v1h-2zM1052 736h3v1h-3zM1060 736h1v1h-1zM1062 736h2v1h-2zM1067 736h3v1h-3zM1071 736h1v1h-1zM1073 736h1v1h-1zM1079 736h1v1h-1zM1082 736h7v1h-7zM1092 736h1v1h-1zM1094 736h4v1h-4zM1100 736h2v1h-2zM1103 736h1v1h-1zM1108 736h1v1h-1zM1110 736h1v1h-1zM1112 736h1v1h-1zM1052 737h1v1h-1zM1057 737h1v1h-1zM1059 737h1v1h-1zM1061 737h2v1h-2zM1064 737h1v1h-1zM1066 737h2v1h-2zM1070 737h1v1h-1zM1072 737h2v1h-2zM1075 737h1v1h-1zM1077 737h1v1h-1zM1082 737h1v1h-1zM1084 737h1v1h-1zM1087 737h1v1h-1zM1089 737h2v1h-2zM1092 737h3v1h-3zM1096 737h3v1h-3zM1100 737h1v1h-1zM1103 737h1v1h-1zM1105 737h1v1h-1zM1109 737h1v1h-1zM1050 738h1v1h-1zM1055 738h1v1h-1zM1057 738h1v1h-1zM1059 738h2v1h-2zM1062 738h2v1h-2zM1066 738h1v1h-1zM1069 738h6v1h-6zM1079 738h1v1h-1zM1081 738h1v1h-1zM1083 738h2v1h-2zM1087 738h3v1h-3zM1091 738h2v1h-2zM1094 738h2v1h-2zM1097 738h1v1h-1zM1099 738h4v1h-4zM1105 738h1v1h-1zM1107 738h1v1h-1zM1109 738h1v1h-1zM1112 738h1v1h-1zM1050 739h1v1h-1zM1053 739h1v1h-1zM1062 739h1v1h-1zM1066 739h5v1h-5zM1073 739h1v1h-1zM1075 739h7v1h-7zM1084 739h1v1h-1zM1086 739h2v1h-2zM1091 739h1v1h-1zM1094 739h1v1h-1zM1098 739h1v1h-1zM1101 739h1v1h-1zM1103 739h2v1h-2zM1107 739h2v1h-2zM1111 739h1v1h-1zM1051 740h1v1h-1zM1053 740h5v1h-5zM1059 740h1v1h-1zM1068 740h1v1h-1zM1070 740h1v1h-1zM1072 740h1v1h-1zM1075 740h1v1h-1zM1077 740h3v1h-3zM1081 740h3v1h-3zM1088 740h2v1h-2zM1091 740h1v1h-1zM1094 740h1v1h-1zM1096 740h3v1h-3zM1105 740h3v1h-3zM1052 741h1v1h-1zM1054 741h5v1h-5zM1060 741h1v1h-1zM1062 741h1v1h-1zM1065 741h2v1h-2zM1068 741h4v1h-4zM1074 741h1v1h-1zM1076 741h3v1h-3zM1081 741h2v1h-2zM1086 741h1v1h-1zM1089 741h1v1h-1zM1097 741h1v1h-1zM1100 741h1v1h-1zM1105 741h1v1h-1zM1107 741h6v1h-6zM1050 742h1v1h-1zM1052 742h2v1h-2zM1057 742h2v1h-2zM1061 742h2v1h-2zM1065 742h3v1h-3zM1072 742h3v1h-3zM1078 742h1v1h-1zM1081 742h1v1h-1zM1083 742h4v1h-4zM1088 742h1v1h-1zM1091 742h1v1h-1zM1093 742h2v1h-2zM1096 742h2v1h-2zM1099 742h1v1h-1zM1106 742h4v1h-4zM1111 742h2v1h-2zM1050 743h3v1h-3zM1055 743h3v1h-3zM1059 743h1v1h-1zM1061 743h1v1h-1zM1063 743h5v1h-5zM1070 743h1v1h-1zM1072 743h3v1h-3zM1077 743h2v1h-2zM1082 743h3v1h-3zM1086 743h1v1h-1zM1088 743h1v1h-1zM1092 743h5v1h-5zM1098 743h5v1h-5zM1105 743h3v1h-3zM1109 743h4v1h-4zM1052 744h4v1h-4zM1059 744h1v1h-1zM1061 744h2v1h-2zM1065 744h1v1h-1zM1069 744h2v1h-2zM1074 744h2v1h-2zM1077 744h3v1h-3zM1083 744h2v1h-2zM1086 744h1v1h-1zM1088 744h1v1h-1zM1091 744h1v1h-1zM1093 744h3v1h-3zM1100 744h8v1h-8zM1109 744h1v1h-1zM1111 744h1v1h-1zM1052 745h1v1h-1zM1054 745h3v1h-3zM1058 745h3v1h-3zM1062 745h2v1h-2zM1067 745h2v1h-2zM1071 745h1v1h-1zM1073 745h1v1h-1zM1077 745h3v1h-3zM1082 745h4v1h-4zM1088 745h2v1h-2zM1092 745h2v1h-2zM1096 745h1v1h-1zM1099 745h1v1h-1zM1102 745h2v1h-2zM1106 745h5v1h-5zM1218 798h1v1h-1zM1221 798h1v1h-1zM1215 799h2v1h-2zM1218 799h1v1h-1zM1221 799h1v1h-1zM1213 800h1v1h-1zM1218 800h2v1h-2zM1209 801h4v1h-4zM1215 801h1v1h-1zM1217 801h5v1h-5zM1207 802h3v1h-3zM1215 802h3v1h-3zM1221 802h2v1h-2zM1203 803h2v1h-2zM1206 803h1v1h-1zM1210 803h6v1h-6zM1219 803h1v1h-1zM1222 803h1v1h-1zM1200 804h1v1h-1zM1203 804h1v1h-1zM1210 804h1v1h-1zM1215 804h5v1h-5zM1222 804h2v1h-2zM1198 805h2v1h-2zM1201 805h1v1h-1zM1207 805h1v1h-1zM1209 805h2v1h-2zM1214 805h6v1h-6zM1223 805h1v1h-1zM1199 806h1v1h-1zM1201 806h4v1h-4zM1206 806h4v1h-4zM1211 806h2v1h-2zM1214 806h6v1h-6zM1221 806h1v1h-1zM1223 806h1v1h-1zM1197 807h2v1h-2zM1200 807h4v1h-4zM1206 807h1v1h-1zM1209 807h1v1h-1zM1213 807h5v1h-5zM1219 807h3v1h-3zM1223 807h2v1h-2zM1198 808h10v1h-10zM1210 808h1v1h-1zM1213 808h5v1h-5zM1219 808h1v1h-1zM1223 808h2v1h-2zM1197 809h2v1h-2zM1200 809h4v1h-4zM1205 809h2v1h-2zM1211 809h4v1h-4zM1216 809h2v1h-2zM1222 809h2v1h-2zM1198 810h5v1h-5zM1206 810h3v1h-3zM1211 810h4v1h-4zM1216 810h1v1h-1zM1218 810h1v1h-1zM1221 810h1v1h-1zM1223 810h1v1h-1zM1197 811h3v1h-3zM1201 811h2v1h-2zM1204 811h1v1h-1zM1209 811h2v1h-2zM1213 811h1v1h-1zM1215 811h2v1h-2zM1219 811h2v1h-2zM1222 811h2v1h-2zM1199 812h1v1h-1zM1201 812h3v1h-3zM1207 812h3v1h-3zM1216 812h1v1h-1zM1219 812h2v1h-2zM1224 812h1v1h-1zM1198 813h3v1h-3zM1202 813h1v1h-1zM1205 813h3v1h-3zM1210 813h1v1h-1zM1212 813h1v1h-1zM1214 813h1v1h-1zM1219 813h3v1h-3zM1224 813h3v1h-3zM1199 814h5v1h-5zM1205 814h1v1h-1zM1207 814h3v1h-3zM1212 814h10v1h-10zM1223 814h2v1h-2zM1199 815h2v1h-2zM1204 815h1v1h-1zM1209 815h1v1h-1zM1211 815h10v1h-10zM1225 815h2v1h-2zM1200 816h2v1h-2zM1203 816h1v1h-1zM1205 816h3v1h-3zM1209 816h3v1h-3zM1214 816h1v1h-1zM1218 816h1v1h-1zM1220 816h1v1h-1zM1225 816h1v1h-1zM1227 816h1v1h-1zM1199 817h3v1h-3zM1206 817h2v1h-2zM1209 817h2v1h-2zM1217 817h2v1h-2zM1222 817h2v1h-2zM1225 817h1v1h-1zM1203 818h3v1h-3zM1207 818h1v1h-1zM1211 818h3v1h-3zM1219 818h2v1h-2zM1204 819h1v1h-1zM1206 819h5v1h-5zM1216 819h4v1h-4zM1223 819h6v1h-6zM1206 820h1v1h-1zM1210 820h4v1h-4zM1218 820h4v1h-4zM1224 820h1v1h-1zM1227 820h2v1h-2zM1201 821h1v1h-1zM1204 821h2v1h-2zM1207 821h1v1h-1zM1211 821h4v1h-4zM1216 821h4v1h-4zM1222 821h2v1h-2zM1226 821h1v1h-1zM1201 822h1v1h-1zM1205 822h1v1h-1zM1207 822h2v1h-2zM1210 822h2v1h-2zM1219 822h1v1h-1zM1222 822h2v1h-2zM1225 822h1v1h-1zM1201 823h1v1h-1zM1203 823h3v1h-3zM1207 823h1v1h-1zM1210 823h1v1h-1zM1215 823h1v1h-1zM1218 823h2v1h-2zM1222 823h3v1h-3zM1226 823h1v1h-1zM1203 824h1v1h-1zM1208 824h2v1h-2zM1213 824h1v1h-1zM1215 824h1v1h-1zM1222 824h2v1h-2zM1225 824h2v1h-2zM1203 825h4v1h-4zM1208 825h1v1h-1zM1210 825h1v1h-1zM1213 825h1v1h-1zM1217 825h1v1h-1zM1219 825h2v1h-2zM1202 826h5v1h-5zM1209 826h1v1h-1zM1214 826h2v1h-2zM1217 826h4v1h-4zM1223 826h2v1h-2zM1229 826h2v1h-2zM1203 827h3v1h-3zM1208 827h2v1h-2zM1212 827h1v1h-1zM1214 827h1v1h-1zM1216 827h1v1h-1zM1222 827h1v1h-1zM1229 827h2v1h-2zM1203 828h8v1h-8zM1212 828h1v1h-1zM1214 828h2v1h-2zM1223 828h1v1h-1zM1225 828h1v1h-1zM1227 828h1v1h-1zM1229 828h1v1h-1zM1205 829h6v1h-6zM1212 829h1v1h-1zM1217 829h1v1h-1zM1219 829h2v1h-2zM1222 829h4v1h-4zM1227 829h2v1h-2zM1205 830h4v1h-4zM1210 830h1v1h-1zM1212 830h1v1h-1zM1215 830h6v1h-6zM1225 830h1v1h-1zM1227 830h2v1h-2zM1231 830h1v1h-1zM1207 831h3v1h-3zM1211 831h2v1h-2zM1215 831h2v1h-2zM1220 831h1v1h-1zM1225 831h2v1h-2zM1228 831h3v1h-3zM1204 832h1v1h-1zM1206 832h2v1h-2zM1211 832h1v1h-1zM1213 832h1v1h-1zM1216 832h3v1h-3zM1222 832h3v1h-3zM1228 832h3v1h-3zM1205 833h4v1h-4zM1211 833h2v1h-2zM1214 833h1v1h-1zM1216 833h3v1h-3zM1220 833h2v1h-2zM1223 833h2v1h-2zM1226 833h1v1h-1zM1229 833h3v1h-3zM1205 834h1v1h-1zM1207 834h2v1h-2zM1210 834h1v1h-1zM1212 834h1v1h-1zM1215 834h1v1h-1zM1218 834h3v1h-3zM1223 834h4v1h-4zM1229 834h3v1h-3zM1205 835h1v1h-1zM1212 835h1v1h-1zM1215 835h3v1h-3zM1220 835h1v1h-1zM1222 835h1v1h-1zM1224 835h5v1h-5zM1230 835h1v1h-1zM1233 835h1v1h-1zM1206 836h1v1h-1zM1209 836h2v1h-2zM1215 836h1v1h-1zM1221 836h2v1h-2zM1224 836h5v1h-5zM1230 836h1v1h-1zM1232 836h2v1h-2zM1206 837h1v1h-1zM1208 837h4v1h-4zM1214 837h2v1h-2zM1217 837h1v1h-1zM1219 837h2v1h-2zM1222 837h2v1h-2zM1225 837h2v1h-2zM1229 837h1v1h-1zM1231 837h3v1h-3zM1206 838h4v1h-4zM1213 838h6v1h-6zM1220 838h1v1h-1zM1226 838h2v1h-2zM1230 838h4v1h-4zM1209 839h3v1h-3zM1213 839h1v1h-1zM1218 839h2v1h-2zM1221 839h1v1h-1zM1223 839h1v1h-1zM1225 839h3v1h-3zM1229 839h1v1h-1zM1231 839h4v1h-4zM1207 840h2v1h-2zM1212 840h1v1h-1zM1215 840h1v1h-1zM1218 840h7v1h-7zM1227 840h1v1h-1zM1230 840h1v1h-1zM1232 840h1v1h-1zM1234 840h1v1h-1zM1207 841h3v1h-3zM1212 841h3v1h-3zM1216 841h1v1h-1zM1218 841h2v1h-2zM1221 841h5v1h-5zM1227 841h1v1h-1zM1229 841h1v1h-1zM1231 841h1v1h-1zM1208 842h1v1h-1zM1214 842h3v1h-3zM1219 842h1v1h-1zM1221 842h1v1h-1zM1224 842h3v1h-3zM1228 842h6v1h-6zM1235 842h1v1h-1zM1208 843h1v1h-1zM1213 843h2v1h-2zM1219 843h1v1h-1zM1221 843h1v1h-1zM1225 843h2v1h-2zM1229 843h1v1h-1zM1232 843h1v1h-1zM1235 843h1v1h-1zM1208 844h2v1h-2zM1211 844h1v1h-1zM1214 844h6v1h-6zM1224 844h1v1h-1zM1226 844h2v1h-2zM1229 844h1v1h-1zM1231 844h1v1h-1zM1235 844h2v1h-2zM1210 845h1v1h-1zM1213 845h1v1h-1zM1215 845h2v1h-2zM1218 845h2v1h-2zM1221 845h1v1h-1zM1223 845h3v1h-3zM1228 845h1v1h-1zM1235 845h1v1h-1zM1214 846h3v1h-3zM1218 846h2v1h-2zM1223 846h1v1h-1zM1231 846h2v1h-2zM1235 846h1v1h-1zM1215 847h1v1h-1zM1220 847h5v1h-5zM1226 847h1v1h-1zM1229 847h1v1h-1zM1231 847h4v1h-4zM1236 847h2v1h-2zM1213 848h2v1h-2zM1217 848h1v1h-1zM1223 848h2v1h-2zM1227 848h1v1h-1zM1229 848h1v1h-1zM1232 848h2v1h-2zM1236 848h1v1h-1zM1212 849h5v1h-5zM1218 849h1v1h-1zM1221 849h1v1h-1zM1223 849h1v1h-1zM1226 849h2v1h-2zM1231 849h3v1h-3zM1210 850h2v1h-2zM1213 850h1v1h-1zM1215 850h2v1h-2zM1219 850h3v1h-3zM1227 850h1v1h-1zM1230 850h1v1h-1zM1237 850h1v1h-1zM1210 851h1v1h-1zM1212 851h1v1h-1zM1214 851h3v1h-3zM1219 851h4v1h-4zM1224 851h1v1h-1zM1226 851h1v1h-1zM1229 851h4v1h-4zM1235 851h3v1h-3zM1213 852h1v1h-1zM1215 852h1v1h-1zM1219 852h4v1h-4zM1224 852h1v1h-1zM1227 852h3v1h-3zM1231 852h2v1h-2zM1234 852h1v1h-1zM1236 852h3v1h-3zM1211 853h1v1h-1zM1215 853h2v1h-2zM1219 853h2v1h-2zM1223 853h6v1h-6zM1230 853h2v1h-2zM1234 853h1v1h-1zM1236 853h1v1h-1zM1239 853h1v1h-1zM1211 854h2v1h-2zM1214 854h3v1h-3zM1218 854h1v1h-1zM1220 854h1v1h-1zM1224 854h3v1h-3zM1228 854h2v1h-2zM1231 854h4v1h-4zM1237 854h1v1h-1zM1219 855h1v1h-1zM1224 855h1v1h-1zM1226 855h2v1h-2zM1229 855h1v1h-1zM1231 855h5v1h-5zM1238 855h2v1h-2zM1212 856h1v1h-1zM1214 856h2v1h-2zM1219 856h2v1h-2zM1225 856h1v1h-1zM1228 856h1v1h-1zM1231 856h4v1h-4zM1237 856h1v1h-1zM1212 857h1v1h-1zM1215 857h1v1h-1zM1217 857h1v1h-1zM1219 857h7v1h-7zM1227 857h1v1h-1zM1229 857h2v1h-2zM1234 857h2v1h-2zM1237 857h1v1h-1zM1240 857h1v1h-1zM1215 858h4v1h-4zM1222 858h3v1h-3zM1230 858h4v1h-4zM1236 858h3v1h-3zM1214 859h3v1h-3zM1224 859h1v1h-1zM1229 859h2v1h-2zM1232 859h1v1h-1zM1214 860h1v1h-1zM1218 860h2v1h-2zM1223 860h3v1h-3zM1229 860h2v1h-2zM1214 861h1v1h-1zM1219 861h3v1h-3zM1223 861h1v1h-1zM1219 862h1v1h-1zM1223 862h1v1h-1zM1225 862h2v1h-2zM1216 863h1v1h-1zM1219 863h1v1h-1zM1221 863h2v1h-2zM1217 864h3v1h-3zM1181 965h1v1h-1zM1183 965h1v1h-1zM1181 966h4v1h-4zM1181 967h2v1h-2zM1177 968h1v1h-1zM1179 968h5v1h-5zM1175 969h1v1h-1zM1177 969h1v1h-1zM1179 969h1v1h-1zM1181 969h2v1h-2zM1185 969h2v1h-2zM1174 970h1v1h-1zM1176 970h1v1h-1zM1178 970h1v1h-1zM1184 970h3v1h-3zM1173 971h2v1h-2zM1180 971h1v1h-1zM1182 971h1v1h-1zM1185 971h1v1h-1zM1172 972h3v1h-3zM1182 972h1v1h-1zM1185 972h1v1h-1zM1187 972h1v1h-1zM1173 973h1v1h-1zM1180 973h8v1h-8zM1170 974h2v1h-2zM1177 974h9v1h-9zM1187 974h4v1h-4zM1167 975h1v1h-1zM1169 975h2v1h-2zM1173 975h1v1h-1zM1176 975h1v1h-1zM1178 975h1v1h-1zM1181 975h3v1h-3zM1185 975h2v1h-2zM1188 975h2v1h-2zM1171 976h1v1h-1zM1174 976h1v1h-1zM1177 976h1v1h-1zM1180 976h9v1h-9zM1191 976h1v1h-1zM1164 977h6v1h-6zM1171 977h1v1h-1zM1174 977h2v1h-2zM1177 977h1v1h-1zM1182 977h2v1h-2zM1186 977h1v1h-1zM1191 977h1v1h-1zM1166 978h3v1h-3zM1171 978h2v1h-2zM1174 978h2v1h-2zM1178 978h1v1h-1zM1181 978h2v1h-2zM1186 978h2v1h-2zM1189 978h2v1h-2zM1192 978h1v1h-1zM1161 979h1v1h-1zM1163 979h7v1h-7zM1173 979h2v1h-2zM1179 979h4v1h-4zM1189 979h5v1h-5zM1161 980h1v1h-1zM1167 980h3v1h-3zM1171 980h6v1h-6zM1179 980h4v1h-4zM1185 980h2v1h-2zM1189 980h4v1h-4zM1194 980h2v1h-2zM1159 981h2v1h-2zM1163 981h2v1h-2zM1166 981h11v1h-11zM1178 981h2v1h-2zM1181 981h1v1h-1zM1184 981h1v1h-1zM1186 981h4v1h-4zM1191 981h3v1h-3zM1195 981h2v1h-2zM1157 982h3v1h-3zM1161 982h1v1h-1zM1164 982h7v1h-7zM1172 982h2v1h-2zM1175 982h2v1h-2zM1181 982h3v1h-3zM1191 982h3v1h-3zM1195 982h2v1h-2zM1158 983h1v1h-1zM1160 983h1v1h-1zM1163 983h3v1h-3zM1167 983h1v1h-1zM1169 983h3v1h-3zM1174 983h2v1h-2zM1177 983h1v1h-1zM1183 983h1v1h-1zM1187 983h1v1h-1zM1189 983h2v1h-2zM1192 983h2v1h-2zM1195 983h2v1h-2zM1155 984h2v1h-2zM1159 984h2v1h-2zM1165 984h4v1h-4zM1170 984h2v1h-2zM1173 984h3v1h-3zM1178 984h1v1h-1zM1180 984h2v1h-2zM1184 984h1v1h-1zM1186 984h1v1h-1zM1188 984h5v1h-5zM1153 985h1v1h-1zM1155 985h1v1h-1zM1159 985h3v1h-3zM1163 985h1v1h-1zM1166 985h2v1h-2zM1169 985h1v1h-1zM1174 985h2v1h-2zM1180 985h3v1h-3zM1184 985h1v1h-1zM1186 985h1v1h-1zM1190 985h1v1h-1zM1192 985h3v1h-3zM1196 985h2v1h-2zM1153 986h3v1h-3zM1157 986h1v1h-1zM1159 986h1v1h-1zM1161 986h2v1h-2zM1164 986h1v1h-1zM1168 986h2v1h-2zM1171 986h1v1h-1zM1177 986h1v1h-1zM1179 986h1v1h-1zM1181 986h3v1h-3zM1190 986h1v1h-1zM1192 986h4v1h-4zM1197 986h1v1h-1zM1154 987h1v1h-1zM1158 987h2v1h-2zM1161 987h3v1h-3zM1166 987h1v1h-1zM1169 987h3v1h-3zM1173 987h3v1h-3zM1178 987h3v1h-3zM1186 987h2v1h-2zM1191 987h1v1h-1zM1151 988h4v1h-4zM1156 988h6v1h-6zM1163 988h5v1h-5zM1169 988h5v1h-5zM1176 988h7v1h-7zM1184 988h1v1h-1zM1186 988h1v1h-1zM1189 988h4v1h-4zM1194 988h1v1h-1zM1148 989h1v1h-1zM1150 989h4v1h-4zM1156 989h1v1h-1zM1158 989h4v1h-4zM1164 989h5v1h-5zM1170 989h1v1h-1zM1173 989h8v1h-8zM1182 989h1v1h-1zM1186 989h8v1h-8zM1146 990h1v1h-1zM1149 990h2v1h-2zM1155 990h8v1h-8zM1168 990h3v1h-3zM1173 990h3v1h-3zM1177 990h2v1h-2zM1182 990h2v1h-2zM1185 990h1v1h-1zM1187 990h5v1h-5zM1145 991h1v1h-1zM1147 991h1v1h-1zM1149 991h3v1h-3zM1154 991h6v1h-6zM1161 991h2v1h-2zM1164 991h1v1h-1zM1167 991h2v1h-2zM1171 991h1v1h-1zM1178 991h2v1h-2zM1183 991h1v1h-1zM1185 991h1v1h-1zM1188 991h1v1h-1zM1190 991h1v1h-1zM1146 992h2v1h-2zM1149 992h1v1h-1zM1151 992h1v1h-1zM1155 992h5v1h-5zM1161 992h6v1h-6zM1168 992h2v1h-2zM1171 992h5v1h-5zM1177 992h3v1h-3zM1182 992h1v1h-1zM1184 992h1v1h-1zM1188 992h1v1h-1zM1149 993h1v1h-1zM1151 993h1v1h-1zM1153 993h2v1h-2zM1157 993h2v1h-2zM1161 993h3v1h-3zM1165 993h1v1h-1zM1168 993h1v1h-1zM1172 993h1v1h-1zM1175 993h1v1h-1zM1178 993h1v1h-1zM1180 993h3v1h-3zM1185 993h2v1h-2zM1145 994h1v1h-1zM1147 994h1v1h-1zM1149 994h3v1h-3zM1154 994h2v1h-2zM1157 994h2v1h-2zM1160 994h1v1h-1zM1166 994h1v1h-1zM1168 994h4v1h-4zM1175 994h1v1h-1zM1180 994h5v1h-5zM1141 995h2v1h-2zM1146 995h5v1h-5zM1153 995h2v1h-2zM1156 995h1v1h-1zM1160 995h2v1h-2zM1164 995h1v1h-1zM1169 995h1v1h-1zM1171 995h1v1h-1zM1174 995h2v1h-2zM1178 995h6v1h-6zM1185 995h1v1h-1zM1138 996h1v1h-1zM1140 996h2v1h-2zM1143 996h1v1h-1zM1145 996h1v1h-1zM1147 996h1v1h-1zM1149 996h2v1h-2zM1154 996h2v1h-2zM1157 996h1v1h-1zM1160 996h1v1h-1zM1165 996h5v1h-5zM1171 996h1v1h-1zM1175 996h1v1h-1zM1178 996h3v1h-3zM1183 996h1v1h-1zM1139 997h2v1h-2zM1146 997h1v1h-1zM1149 997h1v1h-1zM1153 997h4v1h-4zM1158 997h1v1h-1zM1164 997h2v1h-2zM1169 997h3v1h-3zM1176 997h1v1h-1zM1179 997h1v1h-1zM1181 997h1v1h-1zM1137 998h1v1h-1zM1140 998h1v1h-1zM1143 998h3v1h-3zM1147 998h3v1h-3zM1154 998h1v1h-1zM1156 998h1v1h-1zM1160 998h6v1h-6zM1170 998h2v1h-2zM1173 998h1v1h-1zM1176 998h2v1h-2zM1179 998h2v1h-2zM1135 999h1v1h-1zM1139 999h2v1h-2zM1143 999h1v1h-1zM1146 999h2v1h-2zM1149 999h2v1h-2zM1156 999h1v1h-1zM1158 999h1v1h-1zM1160 999h3v1h-3zM1166 999h1v1h-1zM1169 999h2v1h-2zM1172 999h1v1h-1zM1177 999h3v1h-3zM1134 1000h2v1h-2zM1139 1000h2v1h-2zM1142 1000h1v1h-1zM1144 1000h2v1h-2zM1152 1000h2v1h-2zM1155 1000h1v1h-1zM1161 1000h1v1h-1zM1165 1000h4v1h-4zM1170 1000h1v1h-1zM1172 1000h1v1h-1zM1175 1000h1v1h-1zM1135 1001h1v1h-1zM1139 1001h2v1h-2zM1145 1001h3v1h-3zM1152 1001h1v1h-1zM1156 1001h1v1h-1zM1158 1001h1v1h-1zM1165 1001h6v1h-6zM1173 1001h1v1h-1zM1175 1001h1v1h-1zM1134 1002h3v1h-3zM1138 1002h2v1h-2zM1141 1002h1v1h-1zM1143 1002h2v1h-2zM1149 1002h2v1h-2zM1159 1002h1v1h-1zM1162 1002h3v1h-3zM1170 1002h1v1h-1zM1172 1002h2v1h-2zM1134 1003h1v1h-1zM1136 1003h1v1h-1zM1138 1003h2v1h-2zM1141 1003h3v1h-3zM1148 1003h2v1h-2zM1152 1003h3v1h-3zM1157 1003h2v1h-2zM1164 1003h2v1h-2zM1169 1003h1v1h-1zM1171 1003h2v1h-2zM1135 1004h3v1h-3zM1143 1004h1v1h-1zM1147 1004h2v1h-2zM1152 1004h1v1h-1zM1156 1004h1v1h-1zM1159 1004h1v1h-1zM1162 1004h2v1h-2zM1168 1004h1v1h-1zM1170 1004h1v1h-1zM1138 1005h4v1h-4zM1143 1005h1v1h-1zM1148 1005h1v1h-1zM1154 1005h1v1h-1zM1159 1005h1v1h-1zM1168 1005h2v1h-2zM1171 1005h1v1h-1zM1137 1006h2v1h-2zM1140 1006h2v1h-2zM1147 1006h1v1h-1zM1153 1006h4v1h-4zM1158 1006h1v1h-1zM1168 1006h2v1h-2zM1138 1007h3v1h-3zM1142 1007h1v1h-1zM1145 1007h4v1h-4zM1150 1007h2v1h-2zM1154 1007h5v1h-5zM1160 1007h2v1h-2zM1163 1007h4v1h-4zM1138 1008h4v1h-4zM1146 1008h1v1h-1zM1153 1008h3v1h-3zM1157 1008h2v1h-2zM1160 1008h3v1h-3zM1165 1008h2v1h-2zM1139 1009h3v1h-3zM1146 1009h2v1h-2zM1150 1009h3v1h-3zM1154 1009h1v1h-1zM1156 1009h1v1h-1zM1159 1009h1v1h-1zM1164 1009h2v1h-2zM1140 1010h5v1h-5zM1147 1010h1v1h-1zM1149 1010h3v1h-3zM1154 1010h2v1h-2zM1158 1010h1v1h-1zM1160 1010h1v1h-1zM1163 1010h2v1h-2zM1140 1011h4v1h-4zM1146 1011h3v1h-3zM1151 1011h1v1h-1zM1157 1011h2v1h-2zM1160 1011h2v1h-2zM1141 1012h3v1h-3zM1145 1012h1v1h-1zM1148 1012h1v1h-1zM1151 1012h2v1h-2zM1160 1012h2v1h-2zM1143 1013h4v1h-4zM1148 1013h2v1h-2zM1151 1013h3v1h-3zM1155 1013h1v1h-1zM1158 1013h1v1h-1zM1142 1014h4v1h-4zM1150 1014h3v1h-3zM1154 1014h3v1h-3zM1158 1014h1v1h-1zM1144 1015h8v1h-8zM1154 1015h3v1h-3zM1147 1016h1v1h-1zM1150 1016h2v1h-2zM1155 1016h2v1h-2zM1147 1017h1v1h-1zM1149 1017h2v1h-2zM1152 1017h2v1h-2zM1147 1018h5v1h-5zM1153 1018h1v1h-1zM1146 1019h1v1h-1zM1148 1019h3v1h-3zM1147 1020h3v1h-3zM1149 1021h1v1h-1zM979 965h3v1h-3zM978 966h2v1h-2zM981 966h2v1h-2zM978 967h2v1h-2zM981 967h1v1h-1zM983 967h2v1h-2zM975 968h1v1h-1zM979 968h2v1h-2zM982 968h2v1h-2zM985 968h1v1h-1zM975 969h2v1h-2zM979 969h1v1h-1zM983 969h1v1h-1zM986 969h1v1h-1zM976 970h2v1h-2zM980 970h7v1h-7zM976 971h1v1h-1zM980 971h1v1h-1zM983 971h1v1h-1zM989 971h1v1h-1zM972 972h6v1h-6zM987 972h1v1h-1zM989 972h1v1h-1zM973 973h1v1h-1zM975 973h1v1h-1zM978 973h3v1h-3zM983 973h2v1h-2zM986 973h3v1h-3zM991 973h1v1h-1zM977 974h3v1h-3zM983 974h1v1h-1zM985 974h1v1h-1zM987 974h3v1h-3zM970 975h4v1h-4zM976 975h9v1h-9zM987 975h1v1h-1zM989 975h1v1h-1zM994 975h1v1h-1zM973 976h6v1h-6zM980 976h4v1h-4zM986 976h1v1h-1zM989 976h3v1h-3zM995 976h2v1h-2zM971 977h3v1h-3zM978 977h1v1h-1zM982 977h1v1h-1zM984 977h1v1h-1zM987 977h1v1h-1zM990 977h1v1h-1zM994 977h2v1h-2zM968 978h1v1h-1zM971 978h1v1h-1zM977 978h2v1h-2zM981 978h6v1h-6zM988 978h8v1h-8zM999 978h1v1h-1zM968 979h4v1h-4zM975 979h1v1h-1zM979 979h2v1h-2zM984 979h3v1h-3zM988 979h2v1h-2zM991 979h1v1h-1zM994 979h2v1h-2zM997 979h1v1h-1zM999 979h2v1h-2zM966 980h6v1h-6zM975 980h1v1h-1zM984 980h3v1h-3zM989 980h1v1h-1zM995 980h3v1h-3zM999 980h3v1h-3zM968 981h3v1h-3zM972 981h1v1h-1zM974 981h5v1h-5zM983 981h2v1h-2zM988 981h5v1h-5zM994 981h2v1h-2zM998 981h1v1h-1zM1001 981h3v1h-3zM965 982h2v1h-2zM969 982h2v1h-2zM973 982h3v1h-3zM981 982h2v1h-2zM985 982h3v1h-3zM989 982h4v1h-4zM997 982h2v1h-2zM1004 982h1v1h-1zM964 983h2v1h-2zM969 983h1v1h-1zM974 983h1v1h-1zM976 983h1v1h-1zM978 983h2v1h-2zM983 983h4v1h-4zM992 983h1v1h-1zM995 983h1v1h-1zM997 983h3v1h-3zM1001 983h1v1h-1zM1004 983h1v1h-1zM1006 983h1v1h-1zM964 984h2v1h-2zM967 984h1v1h-1zM969 984h1v1h-1zM971 984h1v1h-1zM975 984h4v1h-4zM982 984h2v1h-2zM987 984h2v1h-2zM990 984h1v1h-1zM993 984h1v1h-1zM995 984h1v1h-1zM998 984h4v1h-4zM1003 984h1v1h-1zM1006 984h1v1h-1zM964 985h4v1h-4zM969 985h1v1h-1zM971 985h2v1h-2zM975 985h1v1h-1zM978 985h2v1h-2zM983 985h2v1h-2zM992 985h1v1h-1zM994 985h1v1h-1zM996 985h2v1h-2zM999 985h2v1h-2zM1005 985h1v1h-1zM1007 985h1v1h-1zM965 986h5v1h-5zM972 986h1v1h-1zM974 986h4v1h-4zM980 986h2v1h-2zM983 986h2v1h-2zM986 986h5v1h-5zM993 986h3v1h-3zM1001 986h2v1h-2zM1005 986h1v1h-1zM1008 986h1v1h-1zM1010 986h1v1h-1zM968 987h5v1h-5zM976 987h1v1h-1zM978 987h5v1h-5zM985 987h1v1h-1zM987 987h2v1h-2zM990 987h3v1h-3zM994 987h1v1h-1zM997 987h1v1h-1zM1000 987h1v1h-1zM1003 987h1v1h-1zM1005 987h2v1h-2zM1008 987h2v1h-2zM1011 987h1v1h-1zM967 988h2v1h-2zM971 988h1v1h-1zM974 988h2v1h-2zM978 988h2v1h-2zM983 988h1v1h-1zM988 988h2v1h-2zM991 988h2v1h-2zM994 988h4v1h-4zM1000 988h12v1h-12zM970 989h1v1h-1zM972 989h1v1h-1zM974 989h1v1h-1zM979 989h1v1h-1zM983 989h1v1h-1zM986 989h7v1h-7zM994 989h2v1h-2zM997 989h2v1h-2zM1002 989h5v1h-5zM1008 989h1v1h-1zM1011 989h2v1h-2zM970 990h1v1h-1zM973 990h1v1h-1zM976 990h3v1h-3zM980 990h2v1h-2zM986 990h2v1h-2zM990 990h4v1h-4zM999 990h5v1h-5zM1005 990h1v1h-1zM1007 990h1v1h-1zM977 991h4v1h-4zM982 991h2v1h-2zM990 991h2v1h-2zM993 991h2v1h-2zM996 991h1v1h-1zM999 991h2v1h-2zM1004 991h2v1h-2zM1010 991h2v1h-2zM1014 991h1v1h-1zM973 992h1v1h-1zM977 992h3v1h-3zM983 992h2v1h-2zM991 992h3v1h-3zM995 992h1v1h-1zM997 992h5v1h-5zM1003 992h2v1h-2zM1011 992h1v1h-1zM1014 992h1v1h-1zM1016 992h1v1h-1zM975 993h3v1h-3zM979 993h2v1h-2zM982 993h2v1h-2zM989 993h5v1h-5zM995 993h4v1h-4zM1000 993h4v1h-4zM1007 993h1v1h-1zM1010 993h2v1h-2zM1014 993h2v1h-2zM1019 993h1v1h-1zM978 994h4v1h-4zM983 994h1v1h-1zM987 994h2v1h-2zM990 994h1v1h-1zM992 994h7v1h-7zM1000 994h1v1h-1zM1007 994h2v1h-2zM1017 994h5v1h-5zM977 995h3v1h-3zM982 995h4v1h-4zM987 995h2v1h-2zM990 995h3v1h-3zM994 995h1v1h-1zM996 995h1v1h-1zM1001 995h2v1h-2zM1004 995h4v1h-4zM1013 995h1v1h-1zM1016 995h2v1h-2zM1020 995h2v1h-2zM979 996h1v1h-1zM982 996h1v1h-1zM986 996h1v1h-1zM988 996h1v1h-1zM990 996h1v1h-1zM996 996h1v1h-1zM998 996h1v1h-1zM1004 996h2v1h-2zM1008 996h1v1h-1zM1010 996h2v1h-2zM1013 996h5v1h-5zM1019 996h3v1h-3zM980 997h2v1h-2zM983 997h1v1h-1zM986 997h2v1h-2zM990 997h3v1h-3zM994 997h2v1h-2zM997 997h4v1h-4zM1002 997h5v1h-5zM1012 997h2v1h-2zM1015 997h3v1h-3zM1019 997h1v1h-1zM1023 997h3v1h-3zM990 998h5v1h-5zM999 998h1v1h-1zM1002 998h1v1h-1zM1004 998h2v1h-2zM1010 998h1v1h-1zM1013 998h1v1h-1zM1016 998h1v1h-1zM1018 998h4v1h-4zM1023 998h2v1h-2zM983 999h1v1h-1zM985 999h1v1h-1zM987 999h1v1h-1zM989 999h2v1h-2zM992 999h1v1h-1zM994 999h1v1h-1zM997 999h1v1h-1zM999 999h1v1h-1zM1002 999h1v1h-1zM1006 999h2v1h-2zM1009 999h2v1h-2zM1012 999h1v1h-1zM1015 999h1v1h-1zM1019 999h2v1h-2zM1024 999h1v1h-1zM1027 999h1v1h-1zM984 1000h1v1h-1zM986 1000h2v1h-2zM989 1000h1v1h-1zM991 1000h3v1h-3zM995 1000h2v1h-2zM999 1000h6v1h-6zM1006 1000h2v1h-2zM1009 1000h3v1h-3zM1013 1000h1v1h-1zM1020 1000h1v1h-1zM1022 1000h3v1h-3zM1026 1000h1v1h-1zM1028 1000h1v1h-1zM986 1001h1v1h-1zM991 1001h2v1h-2zM994 1001h1v1h-1zM996 1001h1v1h-1zM998 1001h2v1h-2zM1001 1001h1v1h-1zM1004 1001h1v1h-1zM1006 1001h2v1h-2zM1009 1001h1v1h-1zM1015 1001h3v1h-3zM1022 1001h1v1h-1zM987 1002h1v1h-1zM989 1002h2v1h-2zM992 1002h3v1h-3zM997 1002h1v1h-1zM1000 1002h2v1h-2zM1007 1002h1v1h-1zM1009 1002h1v1h-1zM1011 1002h2v1h-2zM1015 1002h1v1h-1zM1021 1002h2v1h-2zM1025 1002h1v1h-1zM1028 1002h1v1h-1zM989 1003h3v1h-3zM996 1003h3v1h-3zM1000 1003h1v1h-1zM1006 1003h3v1h-3zM1011 1003h3v1h-3zM1017 1003h3v1h-3zM1021 1003h2v1h-2zM1025 1003h1v1h-1zM1027 1003h1v1h-1zM991 1004h2v1h-2zM994 1004h3v1h-3zM998 1004h2v1h-2zM1003 1004h1v1h-1zM1006 1004h7v1h-7zM1014 1004h1v1h-1zM1021 1004h1v1h-1zM1025 1004h2v1h-2zM991 1005h1v1h-1zM994 1005h9v1h-9zM1004 1005h5v1h-5zM1010 1005h1v1h-1zM1012 1005h4v1h-4zM1017 1005h2v1h-2zM1022 1005h3v1h-3zM1026 1005h1v1h-1zM992 1006h1v1h-1zM994 1006h4v1h-4zM999 1006h1v1h-1zM1001 1006h1v1h-1zM1006 1006h2v1h-2zM1009 1006h1v1h-1zM1013 1006h1v1h-1zM1015 1006h2v1h-2zM1019 1006h1v1h-1zM1024 1006h1v1h-1zM997 1007h1v1h-1zM1001 1007h2v1h-2zM1004 1007h2v1h-2zM1009 1007h1v1h-1zM1011 1007h5v1h-5zM1021 1007h1v1h-1zM1024 1007h1v1h-1zM997 1008h1v1h-1zM999 1008h1v1h-1zM1003 1008h1v1h-1zM1006 1008h2v1h-2zM1009 1008h2v1h-2zM1012 1008h2v1h-2zM1016 1008h2v1h-2zM1021 1008h1v1h-1zM996 1009h1v1h-1zM998 1009h1v1h-1zM1001 1009h1v1h-1zM1004 1009h3v1h-3zM1010 1009h4v1h-4zM1015 1009h3v1h-3zM1019 1009h1v1h-1zM1022 1009h1v1h-1zM998 1010h1v1h-1zM1000 1010h2v1h-2zM1003 1010h6v1h-6zM1010 1010h1v1h-1zM1012 1010h1v1h-1zM1016 1010h1v1h-1zM1019 1010h1v1h-1zM1021 1010h2v1h-2zM1000 1011h1v1h-1zM1002 1011h3v1h-3zM1006 1011h1v1h-1zM1009 1011h1v1h-1zM1013 1011h6v1h-6zM1021 1011h1v1h-1zM1000 1012h2v1h-2zM1005 1012h1v1h-1zM1007 1012h1v1h-1zM1009 1012h2v1h-2zM1012 1012h1v1h-1zM1014 1012h5v1h-5zM1020 1012h1v1h-1zM1005 1013h4v1h-4zM1012 1013h1v1h-1zM1014 1013h3v1h-3zM1018 1013h2v1h-2zM1004 1014h2v1h-2zM1007 1014h2v1h-2zM1014 1014h5v1h-5zM1005 1015h4v1h-4zM1010 1015h1v1h-1zM1013 1015h1v1h-1zM1017 1015h1v1h-1zM1007 1016h1v1h-1zM1011 1016h2v1h-2zM1014 1016h1v1h-1zM1016 1016h3v1h-3zM1007 1017h2v1h-2zM1010 1017h2v1h-2zM1016 1017h2v1h-2zM1009 1018h3v1h-3zM1013 1018h1v1h-1zM1016 1018h1v1h-1zM1010 1019h2v1h-2zM1015 1019h1v1h-1zM1013 1020h1v1h-1zM1014 1021h1v1h-1zM942 798h2v1h-2zM942 799h1v1h-1zM944 799h1v1h-1zM946 799h1v1h-1zM940 800h3v1h-3zM949 800h1v1h-1zM940 801h2v1h-2zM943 801h2v1h-2zM946 801h1v1h-1zM948 801h1v1h-1zM942 802h1v1h-1zM944 802h3v1h-3zM949 802h7v1h-7zM940 803h1v1h-1zM942 803h4v1h-4zM948 803h3v1h-3zM956 803h3v1h-3zM940 804h2v1h-2zM943 804h4v1h-4zM949 804h1v1h-1zM955 804h1v1h-1zM939 805h3v1h-3zM944 805h4v1h-4zM951 805h2v1h-2zM955 805h1v1h-1zM959 805h3v1h-3zM963 805h1v1h-1zM939 806h1v1h-1zM941 806h1v1h-1zM943 806h1v1h-1zM947 806h1v1h-1zM949 806h5v1h-5zM956 806h4v1h-4zM963 806h1v1h-1zM939 807h1v1h-1zM941 807h1v1h-1zM943 807h3v1h-3zM948 807h3v1h-3zM953 807h1v1h-1zM955 807h6v1h-6zM964 807h2v1h-2zM940 808h1v1h-1zM942 808h3v1h-3zM948 808h1v1h-1zM953 808h1v1h-1zM955 808h3v1h-3zM959 808h2v1h-2zM962 808h2v1h-2zM942 809h2v1h-2zM952 809h2v1h-2zM956 809h4v1h-4zM962 809h2v1h-2zM938 810h1v1h-1zM940 810h3v1h-3zM948 810h1v1h-1zM950 810h2v1h-2zM953 810h1v1h-1zM955 810h2v1h-2zM958 810h2v1h-2zM961 810h2v1h-2zM964 810h1v1h-1zM937 811h1v1h-1zM939 811h3v1h-3zM943 811h1v1h-1zM946 811h8v1h-8zM959 811h1v1h-1zM961 811h1v1h-1zM963 811h2v1h-2zM939 812h4v1h-4zM944 812h4v1h-4zM950 812h5v1h-5zM958 812h1v1h-1zM960 812h1v1h-1zM964 812h1v1h-1zM936 813h2v1h-2zM941 813h1v1h-1zM945 813h2v1h-2zM953 813h7v1h-7zM961 813h1v1h-1zM963 813h1v1h-1zM936 814h2v1h-2zM939 814h2v1h-2zM944 814h1v1h-1zM946 814h4v1h-4zM951 814h2v1h-2zM956 814h2v1h-2zM960 814h2v1h-2zM936 815h1v1h-1zM938 815h1v1h-1zM940 815h1v1h-1zM943 815h1v1h-1zM947 815h2v1h-2zM952 815h2v1h-2zM955 815h1v1h-1zM958 815h2v1h-2zM961 815h1v1h-1zM935 816h3v1h-3zM940 816h2v1h-2zM943 816h1v1h-1zM951 816h4v1h-4zM957 816h1v1h-1zM959 816h1v1h-1zM962 816h1v1h-1zM937 817h3v1h-3zM942 817h2v1h-2zM946 817h6v1h-6zM954 817h2v1h-2zM957 817h5v1h-5zM936 818h1v1h-1zM938 818h1v1h-1zM940 818h1v1h-1zM943 818h9v1h-9zM954 818h1v1h-1zM957 818h1v1h-1zM959 818h4v1h-4zM935 819h2v1h-2zM938 819h1v1h-1zM941 819h1v1h-1zM943 819h1v1h-1zM946 819h7v1h-7zM957 819h6v1h-6zM937 820h1v1h-1zM942 820h1v1h-1zM945 820h1v1h-1zM947 820h1v1h-1zM950 820h1v1h-1zM952 820h1v1h-1zM955 820h1v1h-1zM958 820h1v1h-1zM960 820h2v1h-2zM933 821h5v1h-5zM939 821h4v1h-4zM944 821h3v1h-3zM949 821h1v1h-1zM951 821h1v1h-1zM953 821h1v1h-1zM955 821h3v1h-3zM959 821h2v1h-2zM933 822h2v1h-2zM936 822h1v1h-1zM940 822h10v1h-10zM956 822h1v1h-1zM958 822h2v1h-2zM961 822h1v1h-1zM935 823h2v1h-2zM938 823h1v1h-1zM944 823h3v1h-3zM952 823h1v1h-1zM955 823h2v1h-2zM960 823h1v1h-1zM932 824h1v1h-1zM936 824h1v1h-1zM938 824h5v1h-5zM944 824h4v1h-4zM950 824h10v1h-10zM933 825h1v1h-1zM937 825h5v1h-5zM944 825h4v1h-4zM949 825h4v1h-4zM958 825h1v1h-1zM939 826h9v1h-9zM949 826h4v1h-4zM958 826h2v1h-2zM932 827h2v1h-2zM936 827h2v1h-2zM939 827h2v1h-2zM942 827h2v1h-2zM945 827h1v1h-1zM947 827h2v1h-2zM950 827h1v1h-1zM952 827h1v1h-1zM954 827h2v1h-2zM959 827h1v1h-1zM931 828h4v1h-4zM946 828h2v1h-2zM950 828h1v1h-1zM955 828h3v1h-3zM959 828h1v1h-1zM931 829h2v1h-2zM935 829h4v1h-4zM941 829h1v1h-1zM943 829h2v1h-2zM946 829h2v1h-2zM949 829h4v1h-4zM957 829h1v1h-1zM930 830h3v1h-3zM934 830h1v1h-1zM937 830h1v1h-1zM939 830h2v1h-2zM943 830h1v1h-1zM945 830h2v1h-2zM949 830h2v1h-2zM952 830h2v1h-2zM955 830h3v1h-3zM930 831h1v1h-1zM932 831h4v1h-4zM937 831h4v1h-4zM942 831h2v1h-2zM945 831h1v1h-1zM951 831h7v1h-7zM931 832h1v1h-1zM933 832h1v1h-1zM936 832h1v1h-1zM939 832h2v1h-2zM943 832h2v1h-2zM947 832h1v1h-1zM950 832h1v1h-1zM955 832h1v1h-1zM929 833h4v1h-4zM936 833h1v1h-1zM943 833h1v1h-1zM945 833h2v1h-2zM951 833h1v1h-1zM953 833h2v1h-2zM930 834h6v1h-6zM937 834h2v1h-2zM940 834h2v1h-2zM950 834h1v1h-1zM953 834h4v1h-4zM930 835h7v1h-7zM939 835h2v1h-2zM942 835h1v1h-1zM944 835h1v1h-1zM948 835h1v1h-1zM950 835h1v1h-1zM952 835h1v1h-1zM954 835h1v1h-1zM931 836h1v1h-1zM933 836h3v1h-3zM942 836h1v1h-1zM944 836h1v1h-1zM948 836h1v1h-1zM952 836h1v1h-1zM928 837h1v1h-1zM931 837h2v1h-2zM938 837h1v1h-1zM942 837h1v1h-1zM945 837h2v1h-2zM951 837h1v1h-1zM953 837h1v1h-1zM956 837h1v1h-1zM928 838h2v1h-2zM931 838h1v1h-1zM935 838h2v1h-2zM938 838h2v1h-2zM942 838h1v1h-1zM946 838h1v1h-1zM948 838h1v1h-1zM950 838h1v1h-1zM932 839h1v1h-1zM934 839h4v1h-4zM939 839h3v1h-3zM944 839h1v1h-1zM933 840h3v1h-3zM938 840h2v1h-2zM942 840h2v1h-2zM946 840h1v1h-1zM948 840h1v1h-1zM951 840h2v1h-2zM928 841h2v1h-2zM931 841h1v1h-1zM933 841h2v1h-2zM936 841h1v1h-1zM940 841h3v1h-3zM945 841h1v1h-1zM948 841h1v1h-1zM951 841h1v1h-1zM953 841h2v1h-2zM927 842h3v1h-3zM931 842h4v1h-4zM937 842h3v1h-3zM943 842h2v1h-2zM946 842h1v1h-1zM949 842h4v1h-4zM927 843h1v1h-1zM930 843h2v1h-2zM933 843h1v1h-1zM935 843h1v1h-1zM937 843h2v1h-2zM940 843h1v1h-1zM942 843h1v1h-1zM944 843h2v1h-2zM947 843h1v1h-1zM949 843h6v1h-6zM928 844h6v1h-6zM940 844h2v1h-2zM943 844h3v1h-3zM947 844h4v1h-4zM953 844h1v1h-1zM926 845h1v1h-1zM928 845h1v1h-1zM934 845h1v1h-1zM937 845h1v1h-1zM940 845h2v1h-2zM943 845h5v1h-5zM949 845h2v1h-2zM953 845h1v1h-1zM925 846h2v1h-2zM928 846h3v1h-3zM933 846h2v1h-2zM937 846h1v1h-1zM942 846h2v1h-2zM946 846h1v1h-1zM951 846h3v1h-3zM925 847h2v1h-2zM929 847h2v1h-2zM932 847h3v1h-3zM940 847h1v1h-1zM942 847h3v1h-3zM946 847h2v1h-2zM950 847h1v1h-1zM925 848h2v1h-2zM934 848h1v1h-1zM938 848h1v1h-1zM941 848h1v1h-1zM943 848h1v1h-1zM945 848h1v1h-1zM948 848h3v1h-3zM952 848h1v1h-1zM924 849h1v1h-1zM926 849h2v1h-2zM930 849h1v1h-1zM932 849h2v1h-2zM937 849h1v1h-1zM939 849h2v1h-2zM942 849h1v1h-1zM944 849h5v1h-5zM951 849h2v1h-2zM924 850h3v1h-3zM928 850h1v1h-1zM930 850h1v1h-1zM932 850h2v1h-2zM936 850h4v1h-4zM941 850h1v1h-1zM945 850h2v1h-2zM950 850h2v1h-2zM924 851h1v1h-1zM928 851h2v1h-2zM933 851h3v1h-3zM940 851h1v1h-1zM943 851h1v1h-1zM946 851h1v1h-1zM924 852h2v1h-2zM928 852h8v1h-8zM942 852h1v1h-1zM944 852h1v1h-1zM946 852h2v1h-2zM925 853h1v1h-1zM929 853h3v1h-3zM933 853h1v1h-1zM938 853h1v1h-1zM940 853h1v1h-1zM942 853h1v1h-1zM923 854h8v1h-8zM934 854h1v1h-1zM937 854h1v1h-1zM942 854h2v1h-2zM950 854h1v1h-1zM930 855h3v1h-3zM934 855h4v1h-4zM940 855h1v1h-1zM945 855h1v1h-1zM949 855h1v1h-1zM929 856h2v1h-2zM932 856h1v1h-1zM934 856h3v1h-3zM938 856h2v1h-2zM941 856h1v1h-1zM946 856h1v1h-1zM948 856h2v1h-2zM922 857h1v1h-1zM924 857h1v1h-1zM926 857h5v1h-5zM932 857h1v1h-1zM934 857h2v1h-2zM938 857h2v1h-2zM941 857h1v1h-1zM944 857h1v1h-1zM947 857h3v1h-3zM925 858h2v1h-2zM928 858h2v1h-2zM933 858h3v1h-3zM937 858h4v1h-4zM944 858h1v1h-1zM946 858h2v1h-2zM927 859h3v1h-3zM931 859h2v1h-2zM934 859h1v1h-1zM936 859h4v1h-4zM945 859h3v1h-3zM949 859h1v1h-1zM932 860h5v1h-5zM938 860h2v1h-2zM942 860h1v1h-1zM945 860h2v1h-2zM948 860h1v1h-1zM935 861h1v1h-1zM938 861h6v1h-6zM945 861h1v1h-1zM937 862h6v1h-6zM944 862h2v1h-2zM947 862h1v1h-1zM939 863h1v1h-1zM944 863h1v1h-1zM946 863h2v1h-2zM942 864h3v1h-3zM946 864h1v1h-1zM909 520h2v1h-2zM914 520h1v1h-1zM918 520h2v1h-2zM924 520h3v1h-3zM930 520h1v1h-1zM932 520h1v1h-1zM910 521h1v1h-1zM915 521h1v1h-1zM917 521h2v1h-2zM920 521h1v1h-1zM922 521h1v1h-1zM924 521h4v1h-4zM931 521h1v1h-1zM933 521h1v1h-1zM911 522h2v1h-2zM918 522h1v1h-1zM920 522h4v1h-4zM925 522h1v1h-1zM928 522h1v1h-1zM933 522h2v1h-2zM908 523h1v1h-1zM910 523h3v1h-3zM917 523h6v1h-6zM927 523h1v1h-1zM931 523h1v1h-1zM912 524h2v1h-2zM918 524h2v1h-2zM921 524h1v1h-1zM923 524h1v1h-1zM929 524h1v1h-1zM933 524h1v1h-1zM935 524h1v1h-1zM908 525h1v1h-1zM910 525h1v1h-1zM912 525h1v1h-1zM914 525h2v1h-2zM917 525h4v1h-4zM922 525h1v1h-1zM927 525h2v1h-2zM934 525h2v1h-2zM908 526h2v1h-2zM912 526h4v1h-4zM917 526h6v1h-6zM924 526h1v1h-1zM927 526h1v1h-1zM929 526h1v1h-1zM933 526h2v1h-2zM908 527h2v1h-2zM911 527h1v1h-1zM917 527h5v1h-5zM923 527h1v1h-1zM928 527h2v1h-2zM935 527h1v1h-1zM908 528h1v1h-1zM911 528h4v1h-4zM917 528h5v1h-5zM923 528h2v1h-2zM926 528h1v1h-1zM929 528h2v1h-2zM932 528h1v1h-1zM934 528h1v1h-1zM915 529h1v1h-1zM917 529h1v1h-1zM919 529h1v1h-1zM923 529h2v1h-2zM927 529h1v1h-1zM930 529h2v1h-2zM933 529h1v1h-1zM909 530h2v1h-2zM913 530h1v1h-1zM918 530h2v1h-2zM921 530h1v1h-1zM923 530h9v1h-9zM933 530h1v1h-1zM935 530h1v1h-1zM909 531h2v1h-2zM912 531h2v1h-2zM920 531h1v1h-1zM925 531h1v1h-1zM928 531h3v1h-3zM932 531h2v1h-2zM935 531h1v1h-1zM908 532h6v1h-6zM915 532h4v1h-4zM920 532h9v1h-9zM930 532h4v1h-4zM935 532h1v1h-1zM908 533h5v1h-5zM917 533h1v1h-1zM923 533h5v1h-5zM930 533h4v1h-4zM935 533h1v1h-1zM909 534h1v1h-1zM914 534h2v1h-2zM917 534h1v1h-1zM919 534h1v1h-1zM922 534h1v1h-1zM925 534h1v1h-1zM927 534h1v1h-1zM929 534h1v1h-1zM932 534h2v1h-2zM935 534h1v1h-1zM908 535h2v1h-2zM912 535h2v1h-2zM916 535h1v1h-1zM918 535h1v1h-1zM920 535h7v1h-7zM928 535h1v1h-1zM935 535h1v1h-1zM908 536h3v1h-3zM913 536h1v1h-1zM919 536h1v1h-1zM921 536h1v1h-1zM924 536h1v1h-1zM927 536h1v1h-1zM929 536h1v1h-1zM931 536h3v1h-3zM908 537h2v1h-2zM912 537h1v1h-1zM915 537h1v1h-1zM917 537h3v1h-3zM921 537h2v1h-2zM924 537h1v1h-1zM927 537h7v1h-7zM908 538h1v1h-1zM910 538h2v1h-2zM913 538h1v1h-1zM916 538h1v1h-1zM919 538h2v1h-2zM924 538h4v1h-4zM929 538h1v1h-1zM932 538h3v1h-3zM909 539h1v1h-1zM912 539h3v1h-3zM917 539h1v1h-1zM920 539h1v1h-1zM923 539h3v1h-3zM931 539h3v1h-3zM935 539h1v1h-1zM910 540h3v1h-3zM914 540h1v1h-1zM920 540h1v1h-1zM922 540h3v1h-3zM926 540h4v1h-4zM931 540h2v1h-2zM934 540h1v1h-1zM911 541h5v1h-5zM917 541h4v1h-4zM922 541h1v1h-1zM924 541h1v1h-1zM926 541h5v1h-5zM932 541h1v1h-1zM909 542h1v1h-1zM912 542h4v1h-4zM917 542h1v1h-1zM921 542h2v1h-2zM927 542h1v1h-1zM930 542h1v1h-1zM933 542h2v1h-2zM908 543h1v1h-1zM910 543h1v1h-1zM912 543h1v1h-1zM915 543h1v1h-1zM919 543h1v1h-1zM924 543h1v1h-1zM927 543h3v1h-3zM909 544h1v1h-1zM911 544h2v1h-2zM923 544h1v1h-1zM925 544h1v1h-1zM927 544h1v1h-1zM929 544h1v1h-1zM931 544h1v1h-1zM909 545h4v1h-4zM921 545h1v1h-1zM923 545h1v1h-1zM927 545h1v1h-1zM930 545h1v1h-1zM932 545h1v1h-1zM910 546h2v1h-2zM914 546h3v1h-3zM918 546h4v1h-4zM923 546h4v1h-4zM930 546h1v1h-1zM932 546h1v1h-1zM909 547h3v1h-3zM917 547h1v1h-1zM922 547h1v1h-1zM924 547h3v1h-3zM932 547h1v1h-1zM908 548h1v1h-1zM911 548h1v1h-1zM913 548h1v1h-1zM915 548h2v1h-2zM918 548h1v1h-1zM920 548h3v1h-3zM925 548h1v1h-1zM931 548h2v1h-2zM934 548h1v1h-1zM908 549h2v1h-2zM913 549h1v1h-1zM915 549h1v1h-1zM917 549h3v1h-3zM921 549h1v1h-1zM931 549h1v1h-1zM933 549h1v1h-1zM935 549h1v1h-1zM908 550h1v1h-1zM910 550h1v1h-1zM912 550h5v1h-5zM921 550h4v1h-4zM927 550h1v1h-1zM929 550h5v1h-5zM935 550h1v1h-1zM908 551h2v1h-2zM912 551h4v1h-4zM917 551h1v1h-1zM920 551h2v1h-2zM931 551h4v1h-4zM908 552h3v1h-3zM915 552h1v1h-1zM918 552h1v1h-1zM920 552h3v1h-3zM924 552h1v1h-1zM927 552h2v1h-2zM933 552h2v1h-2zM908 553h2v1h-2zM911 553h1v1h-1zM913 553h3v1h-3zM918 553h4v1h-4zM923 553h1v1h-1zM925 553h6v1h-6zM933 553h2v1h-2zM908 554h2v1h-2zM913 554h1v1h-1zM918 554h3v1h-3zM925 554h4v1h-4zM933 554h3v1h-3zM909 555h2v1h-2zM913 555h3v1h-3zM917 555h1v1h-1zM924 555h4v1h-4zM934 555h2v1h-2zM908 556h4v1h-4zM914 556h1v1h-1zM917 556h1v1h-1zM920 556h4v1h-4zM929 556h3v1h-3zM933 556h3v1h-3zM911 557h3v1h-3zM915 557h1v1h-1zM923 557h2v1h-2zM926 557h3v1h-3zM931 557h3v1h-3zM909 558h5v1h-5zM918 558h1v1h-1zM923 558h2v1h-2zM927 558h2v1h-2zM930 558h4v1h-4zM909 559h3v1h-3zM914 559h1v1h-1zM918 559h1v1h-1zM923 559h1v1h-1zM925 559h2v1h-2zM928 559h1v1h-1zM932 559h1v1h-1zM935 559h1v1h-1zM909 560h2v1h-2zM912 560h1v1h-1zM915 560h1v1h-1zM920 560h1v1h-1zM923 560h1v1h-1zM927 560h1v1h-1zM931 560h1v1h-1zM934 560h1v1h-1zM909 561h2v1h-2zM913 561h2v1h-2zM916 561h1v1h-1zM924 561h1v1h-1zM926 561h1v1h-1zM930 561h1v1h-1zM932 561h4v1h-4zM910 562h5v1h-5zM916 562h2v1h-2zM919 562h3v1h-3zM925 562h4v1h-4zM930 562h2v1h-2zM933 562h1v1h-1zM935 562h1v1h-1zM910 563h2v1h-2zM914 563h3v1h-3zM918 563h2v1h-2zM921 563h2v1h-2zM925 563h3v1h-3zM929 563h3v1h-3zM933 563h1v1h-1zM910 564h1v1h-1zM917 564h2v1h-2zM922 564h1v1h-1zM925 564h3v1h-3zM931 564h2v1h-2zM908 565h3v1h-3zM913 565h1v1h-1zM915 565h1v1h-1zM917 565h1v1h-1zM919 565h1v1h-1zM922 565h1v1h-1zM925 565h1v1h-1zM927 565h1v1h-1zM930 565h1v1h-1zM933 565h1v1h-1zM935 565h1v1h-1zM908 566h4v1h-4zM913 566h3v1h-3zM917 566h2v1h-2zM921 566h3v1h-3zM925 566h1v1h-1zM928 566h2v1h-2zM931 566h2v1h-2zM908 567h8v1h-8zM917 567h2v1h-2zM921 567h2v1h-2zM924 567h4v1h-4zM929 567h1v1h-1zM931 567h5v1h-5zM910 568h1v1h-1zM912 568h1v1h-1zM914 568h2v1h-2zM917 568h3v1h-3zM921 568h1v1h-1zM924 568h2v1h-2zM927 568h1v1h-1zM929 568h7v1h-7zM908 569h1v1h-1zM911 569h1v1h-1zM914 569h1v1h-1zM916 569h1v1h-1zM918 569h3v1h-3zM922 569h1v1h-1zM924 569h2v1h-2zM928 569h1v1h-1zM932 569h3v1h-3zM908 570h2v1h-2zM911 570h1v1h-1zM913 570h1v1h-1zM917 570h3v1h-3zM924 570h1v1h-1zM930 570h6v1h-6zM909 571h2v1h-2zM913 571h1v1h-1zM916 571h3v1h-3zM920 571h1v1h-1zM924 571h3v1h-3zM930 571h2v1h-2zM933 571h2v1h-2zM908 572h1v1h-1zM910 572h1v1h-1zM916 572h5v1h-5zM924 572h3v1h-3zM928 572h1v1h-1zM933 572h3v1h-3zM908 573h2v1h-2zM912 573h10v1h-10zM925 573h2v1h-2zM928 573h1v1h-1zM930 573h2v1h-2zM934 573h1v1h-1zM908 574h3v1h-3zM912 574h4v1h-4zM917 574h3v1h-3zM921 574h1v1h-1zM923 574h1v1h-1zM926 574h1v1h-1zM929 574h1v1h-1zM931 574h3v1h-3zM908 575h4v1h-4zM914 575h4v1h-4zM919 575h3v1h-3zM923 575h2v1h-2zM930 575h3v1h-3zM935 575h1v1h-1zM908 576h1v1h-1zM910 576h3v1h-3zM914 576h1v1h-1zM916 576h1v1h-1zM921 576h1v1h-1zM924 576h1v1h-1zM926 576h1v1h-1zM930 576h3v1h-3zM934 576h2v1h-2zM910 577h2v1h-2zM915 577h1v1h-1zM918 577h2v1h-2zM925 577h1v1h-1zM927 577h1v1h-1zM933 577h2v1h-2zM908 578h4v1h-4zM915 578h1v1h-1zM919 578h1v1h-1zM923 578h1v1h-1zM925 578h4v1h-4zM930 578h1v1h-1zM932 578h3v1h-3zM908 579h7v1h-7zM916 579h4v1h-4zM923 579h6v1h-6zM930 579h4v1h-4zM912 580h1v1h-1zM914 580h2v1h-2zM917 580h3v1h-3zM921 580h1v1h-1zM923 580h2v1h-2zM927 580h2v1h-2zM931 580h5v1h-5zM911 581h2v1h-2zM914 581h1v1h-1zM916 581h3v1h-3zM923 581h1v1h-1zM926 581h2v1h-2zM930 581h1v1h-1zM932 581h4v1h-4zM910 582h2v1h-2zM913 582h1v1h-1zM917 582h2v1h-2zM920 582h4v1h-4zM928 582h1v1h-1zM930 582h1v1h-1zM932 582h3v1h-3zM1214 520h3v1h-3zM1219 520h3v1h-3zM1225 520h6v1h-6zM1232 520h1v1h-1zM1236 520h1v1h-1zM1238 520h1v1h-1zM1213 521h1v1h-1zM1216 521h5v1h-5zM1223 521h1v1h-1zM1225 521h9v1h-9zM1236 521h4v1h-4zM1212 522h2v1h-2zM1217 522h2v1h-2zM1224 522h2v1h-2zM1228 522h4v1h-4zM1233 522h1v1h-1zM1237 522h1v1h-1zM1239 522h1v1h-1zM1215 523h1v1h-1zM1218 523h2v1h-2zM1223 523h4v1h-4zM1229 523h3v1h-3zM1234 523h1v1h-1zM1237 523h1v1h-1zM1239 523h1v1h-1zM1215 524h1v1h-1zM1218 524h2v1h-2zM1222 524h3v1h-3zM1226 524h1v1h-1zM1229 524h1v1h-1zM1231 524h1v1h-1zM1233 524h1v1h-1zM1235 524h1v1h-1zM1237 524h1v1h-1zM1239 524h1v1h-1zM1214 525h2v1h-2zM1220 525h2v1h-2zM1224 525h2v1h-2zM1227 525h1v1h-1zM1229 525h4v1h-4zM1234 525h3v1h-3zM1238 525h1v1h-1zM1213 526h2v1h-2zM1219 526h1v1h-1zM1221 526h1v1h-1zM1223 526h1v1h-1zM1226 526h2v1h-2zM1229 526h2v1h-2zM1232 526h1v1h-1zM1234 526h1v1h-1zM1237 526h1v1h-1zM1213 527h2v1h-2zM1218 527h1v1h-1zM1220 527h2v1h-2zM1227 527h2v1h-2zM1230 527h1v1h-1zM1234 527h2v1h-2zM1239 527h1v1h-1zM1213 528h3v1h-3zM1219 528h2v1h-2zM1223 528h1v1h-1zM1226 528h2v1h-2zM1230 528h1v1h-1zM1237 528h1v1h-1zM1239 528h1v1h-1zM1220 529h1v1h-1zM1227 529h5v1h-5zM1234 529h1v1h-1zM1239 529h1v1h-1zM1216 530h3v1h-3zM1221 530h2v1h-2zM1227 530h5v1h-5zM1233 530h1v1h-1zM1235 530h2v1h-2zM1212 531h1v1h-1zM1216 531h2v1h-2zM1219 531h2v1h-2zM1223 531h2v1h-2zM1228 531h4v1h-4zM1233 531h2v1h-2zM1236 531h1v1h-1zM1239 531h1v1h-1zM1215 532h1v1h-1zM1217 532h2v1h-2zM1220 532h1v1h-1zM1230 532h3v1h-3zM1234 532h2v1h-2zM1237 532h1v1h-1zM1214 533h3v1h-3zM1219 533h1v1h-1zM1223 533h1v1h-1zM1226 533h2v1h-2zM1229 533h3v1h-3zM1233 533h6v1h-6zM1212 534h4v1h-4zM1217 534h1v1h-1zM1219 534h2v1h-2zM1222 534h5v1h-5zM1229 534h1v1h-1zM1231 534h2v1h-2zM1235 534h1v1h-1zM1237 534h1v1h-1zM1239 534h1v1h-1zM1212 535h2v1h-2zM1215 535h1v1h-1zM1219 535h2v1h-2zM1222 535h5v1h-5zM1230 535h1v1h-1zM1232 535h1v1h-1zM1235 535h2v1h-2zM1239 535h1v1h-1zM1212 536h1v1h-1zM1214 536h1v1h-1zM1216 536h3v1h-3zM1221 536h1v1h-1zM1225 536h4v1h-4zM1232 536h1v1h-1zM1235 536h3v1h-3zM1239 536h1v1h-1zM1212 537h2v1h-2zM1215 537h1v1h-1zM1217 537h3v1h-3zM1222 537h1v1h-1zM1227 537h5v1h-5zM1234 537h2v1h-2zM1237 537h1v1h-1zM1239 537h1v1h-1zM1213 538h1v1h-1zM1216 538h1v1h-1zM1219 538h2v1h-2zM1222 538h2v1h-2zM1226 538h1v1h-1zM1232 538h1v1h-1zM1235 538h1v1h-1zM1238 538h2v1h-2zM1212 539h4v1h-4zM1217 539h1v1h-1zM1219 539h6v1h-6zM1226 539h2v1h-2zM1229 539h2v1h-2zM1236 539h4v1h-4zM1213 540h1v1h-1zM1216 540h3v1h-3zM1220 540h8v1h-8zM1229 540h2v1h-2zM1232 540h2v1h-2zM1236 540h3v1h-3zM1213 541h1v1h-1zM1216 541h2v1h-2zM1221 541h6v1h-6zM1229 541h3v1h-3zM1236 541h1v1h-1zM1239 541h1v1h-1zM1215 542h4v1h-4zM1220 542h5v1h-5zM1230 542h4v1h-4zM1236 542h4v1h-4zM1212 543h3v1h-3zM1218 543h1v1h-1zM1220 543h2v1h-2zM1223 543h1v1h-1zM1225 543h1v1h-1zM1227 543h2v1h-2zM1230 543h1v1h-1zM1235 543h2v1h-2zM1239 543h1v1h-1zM1212 544h1v1h-1zM1214 544h1v1h-1zM1216 544h2v1h-2zM1220 544h1v1h-1zM1222 544h2v1h-2zM1225 544h2v1h-2zM1229 544h3v1h-3zM1234 544h2v1h-2zM1237 544h2v1h-2zM1212 545h2v1h-2zM1215 545h2v1h-2zM1220 545h2v1h-2zM1224 545h2v1h-2zM1228 545h1v1h-1zM1232 545h1v1h-1zM1234 545h1v1h-1zM1236 545h2v1h-2zM1212 546h2v1h-2zM1216 546h1v1h-1zM1218 546h1v1h-1zM1226 546h1v1h-1zM1231 546h2v1h-2zM1234 546h1v1h-1zM1236 546h2v1h-2zM1212 547h2v1h-2zM1216 547h1v1h-1zM1222 547h1v1h-1zM1225 547h1v1h-1zM1227 547h1v1h-1zM1229 547h3v1h-3zM1234 547h1v1h-1zM1236 547h4v1h-4zM1213 548h2v1h-2zM1217 548h2v1h-2zM1220 548h1v1h-1zM1225 548h1v1h-1zM1231 548h1v1h-1zM1238 548h1v1h-1zM1214 549h6v1h-6zM1221 549h1v1h-1zM1223 549h1v1h-1zM1227 549h1v1h-1zM1229 549h1v1h-1zM1233 549h2v1h-2zM1236 549h3v1h-3zM1214 550h3v1h-3zM1220 550h2v1h-2zM1223 550h2v1h-2zM1226 550h2v1h-2zM1230 550h3v1h-3zM1234 550h6v1h-6zM1213 551h3v1h-3zM1218 551h1v1h-1zM1221 551h1v1h-1zM1223 551h1v1h-1zM1225 551h1v1h-1zM1227 551h1v1h-1zM1230 551h1v1h-1zM1233 551h3v1h-3zM1212 552h1v1h-1zM1214 552h1v1h-1zM1216 552h3v1h-3zM1221 552h1v1h-1zM1224 552h1v1h-1zM1228 552h1v1h-1zM1233 552h1v1h-1zM1238 552h1v1h-1zM1212 553h2v1h-2zM1216 553h1v1h-1zM1221 553h2v1h-2zM1225 553h2v1h-2zM1231 553h2v1h-2zM1235 553h1v1h-1zM1239 553h1v1h-1zM1214 554h1v1h-1zM1216 554h5v1h-5zM1223 554h3v1h-3zM1231 554h2v1h-2zM1238 554h2v1h-2zM1213 555h9v1h-9zM1223 555h1v1h-1zM1228 555h1v1h-1zM1230 555h2v1h-2zM1233 555h1v1h-1zM1235 555h5v1h-5zM1212 556h4v1h-4zM1218 556h4v1h-4zM1223 556h1v1h-1zM1226 556h1v1h-1zM1229 556h2v1h-2zM1232 556h2v1h-2zM1236 556h1v1h-1zM1239 556h1v1h-1zM1215 557h3v1h-3zM1219 557h2v1h-2zM1222 557h1v1h-1zM1225 557h5v1h-5zM1231 557h1v1h-1zM1233 557h1v1h-1zM1237 557h3v1h-3zM1222 558h5v1h-5zM1228 558h1v1h-1zM1233 558h4v1h-4zM1238 558h2v1h-2zM1214 559h4v1h-4zM1220 559h1v1h-1zM1222 559h1v1h-1zM1224 559h2v1h-2zM1227 559h1v1h-1zM1233 559h3v1h-3zM1238 559h1v1h-1zM1214 560h2v1h-2zM1217 560h1v1h-1zM1219 560h1v1h-1zM1223 560h1v1h-1zM1226 560h2v1h-2zM1229 560h5v1h-5zM1235 560h1v1h-1zM1239 560h1v1h-1zM1213 561h1v1h-1zM1218 561h4v1h-4zM1223 561h1v1h-1zM1228 561h5v1h-5zM1236 561h2v1h-2zM1212 562h3v1h-3zM1218 562h1v1h-1zM1222 562h2v1h-2zM1228 562h1v1h-1zM1234 562h2v1h-2zM1237 562h3v1h-3zM1220 563h1v1h-1zM1228 563h2v1h-2zM1231 563h1v1h-1zM1234 563h4v1h-4zM1239 563h1v1h-1zM1213 564h2v1h-2zM1218 564h1v1h-1zM1220 564h2v1h-2zM1223 564h2v1h-2zM1226 564h1v1h-1zM1229 564h2v1h-2zM1232 564h1v1h-1zM1234 564h2v1h-2zM1239 564h1v1h-1zM1213 565h2v1h-2zM1216 565h1v1h-1zM1218 565h1v1h-1zM1220 565h3v1h-3zM1224 565h2v1h-2zM1228 565h3v1h-3zM1232 565h4v1h-4zM1238 565h2v1h-2zM1212 566h1v1h-1zM1214 566h1v1h-1zM1217 566h1v1h-1zM1219 566h3v1h-3zM1223 566h2v1h-2zM1226 566h1v1h-1zM1228 566h1v1h-1zM1232 566h1v1h-1zM1237 566h2v1h-2zM1217 567h1v1h-1zM1220 567h2v1h-2zM1224 567h2v1h-2zM1227 567h7v1h-7zM1236 567h1v1h-1zM1238 567h1v1h-1zM1215 568h2v1h-2zM1218 568h1v1h-1zM1222 568h2v1h-2zM1225 568h4v1h-4zM1231 568h2v1h-2zM1236 568h1v1h-1zM1238 568h2v1h-2zM1212 569h1v1h-1zM1215 569h5v1h-5zM1222 569h2v1h-2zM1226 569h5v1h-5zM1233 569h1v1h-1zM1239 569h1v1h-1zM1214 570h1v1h-1zM1218 570h6v1h-6zM1227 570h3v1h-3zM1232 570h1v1h-1zM1236 570h1v1h-1zM1214 571h5v1h-5zM1221 571h10v1h-10zM1234 571h1v1h-1zM1236 571h2v1h-2zM1239 571h1v1h-1zM1213 572h2v1h-2zM1217 572h1v1h-1zM1219 572h2v1h-2zM1223 572h7v1h-7zM1236 572h3v1h-3zM1212 573h3v1h-3zM1216 573h1v1h-1zM1220 573h3v1h-3zM1226 573h1v1h-1zM1230 573h1v1h-1zM1233 573h2v1h-2zM1236 573h4v1h-4zM1212 574h1v1h-1zM1219 574h1v1h-1zM1222 574h1v1h-1zM1224 574h4v1h-4zM1229 574h1v1h-1zM1237 574h3v1h-3zM1212 575h1v1h-1zM1215 575h2v1h-2zM1220 575h1v1h-1zM1224 575h1v1h-1zM1226 575h1v1h-1zM1230 575h1v1h-1zM1235 575h1v1h-1zM1238 575h1v1h-1zM1212 576h4v1h-4zM1219 576h1v1h-1zM1223 576h1v1h-1zM1230 576h9v1h-9zM1212 577h7v1h-7zM1221 577h5v1h-5zM1231 577h1v1h-1zM1233 577h3v1h-3zM1237 577h1v1h-1zM1239 577h1v1h-1zM1214 578h1v1h-1zM1216 578h2v1h-2zM1221 578h1v1h-1zM1224 578h1v1h-1zM1229 578h5v1h-5zM1212 579h4v1h-4zM1218 579h4v1h-4zM1225 579h1v1h-1zM1227 579h3v1h-3zM1231 579h4v1h-4zM1236 579h2v1h-2zM1239 579h1v1h-1zM1212 580h3v1h-3zM1218 580h1v1h-1zM1220 580h1v1h-1zM1222 580h1v1h-1zM1224 580h1v1h-1zM1228 580h4v1h-4zM1235 580h2v1h-2zM1214 581h1v1h-1zM1216 581h3v1h-3zM1220 581h1v1h-1zM1222 581h3v1h-3zM1226 581h2v1h-2zM1229 581h1v1h-1zM1231 581h2v1h-2zM1234 581h2v1h-2zM1237 581h3v1h-3zM1213 582h2v1h-2zM1217 582h1v1h-1zM1222 582h4v1h-4zM1230 582h2v1h-2zM1236 582h1v1h-1zM1238 582h1v1h-1z" fill="#141414"/>
</svg></body></html>
